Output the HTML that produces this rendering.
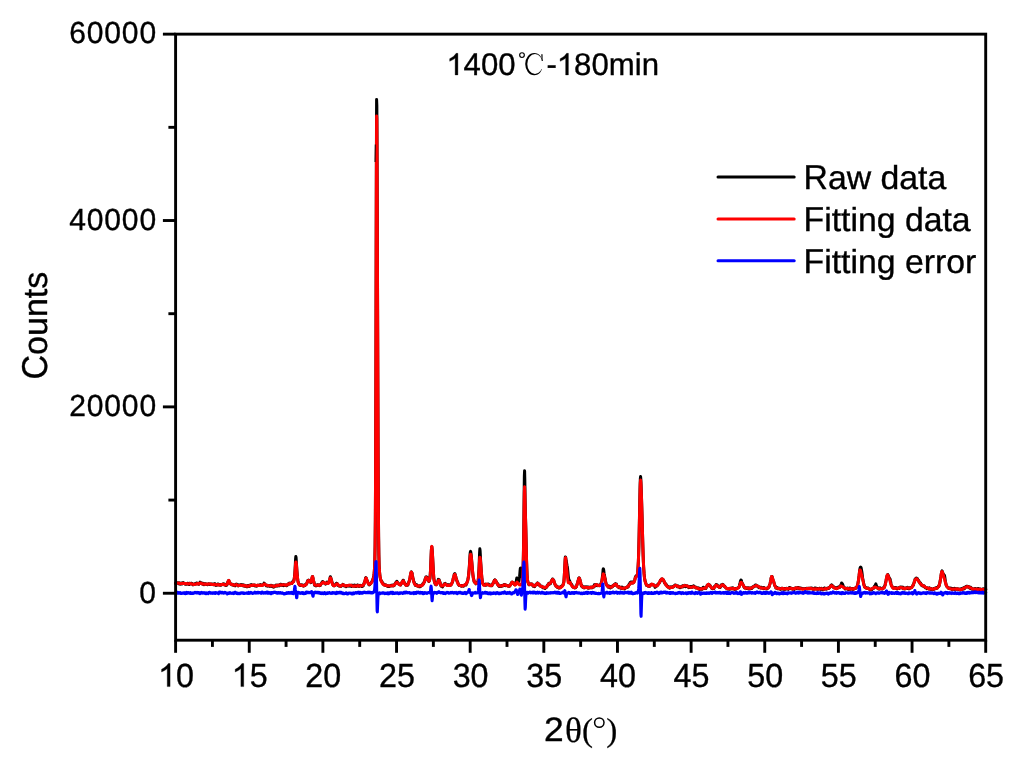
<!DOCTYPE html>
<html><head><meta charset="utf-8"><title>XRD 1400C-180min</title>
<style>html,body{margin:0;padding:0;background:#fff;}body{width:1024px;height:762px;overflow:hidden;}svg{display:block;will-change:transform;}text{font-family:"Liberation Sans",sans-serif;fill:#000;text-rendering:geometricPrecision;}.se{font-family:"Liberation Serif",serif;}</style></head><body>
<svg width="1024" height="762" viewBox="0 0 1024 762">
<rect x="0" y="0" width="1024" height="762" fill="#ffffff"/>
<g fill="none" stroke-width="3" stroke-linejoin="round" stroke-linecap="round">
<path stroke="#000000" d="M175.60 583.33L175.85 582.75L176.10 582.81L176.35 582.47L176.60 582.80L176.85 583.15L177.10 582.89L177.35 583.24L177.60 583.23L177.85 583.30L178.10 583.22L178.35 582.91L178.60 583.35L178.85 583.13L179.10 583.26L179.35 582.90L179.60 584.06L179.85 583.98L180.10 583.82L180.35 584.09L180.60 583.53L180.85 583.51L181.10 583.10L181.35 583.11L181.60 583.12L181.85 583.33L182.10 583.82L182.35 583.56L182.60 583.55L182.85 583.24L183.10 583.47L183.35 582.60L183.60 583.54L183.85 583.19L184.10 583.42L184.35 583.49L184.60 583.25L184.85 583.50L185.10 583.99L185.35 583.56L185.60 583.72L185.85 584.27L186.10 583.84L186.35 584.21L186.60 584.20L186.85 583.67L187.10 583.80L187.35 583.93L187.60 583.26L187.85 583.53L188.10 583.84L188.35 583.79L188.60 584.03L188.85 584.56L189.10 584.61L189.35 584.51L189.60 583.33L189.85 583.47L190.10 583.60L190.35 583.92L190.60 583.47L190.85 583.65L191.10 583.27L191.35 583.47L191.60 583.35L191.85 583.80L192.10 583.67L192.35 584.19L192.60 584.39L192.85 584.81L193.10 584.50L193.35 584.48L193.60 584.65L193.85 584.35L194.10 584.25L194.35 584.01L194.60 584.06L194.85 583.85L195.10 583.63L195.35 584.05L195.60 583.82L195.85 583.99L196.10 583.97L196.35 583.49L196.60 582.96L196.85 583.59L197.10 583.35L197.35 583.23L197.60 583.65L197.85 583.53L198.10 583.71L198.35 583.73L198.60 583.76L198.85 584.28L199.10 583.95L199.35 583.29L199.60 583.06L199.85 582.56L200.10 582.16L200.35 582.72L200.60 582.84L200.85 582.89L201.10 582.87L201.35 583.08L201.60 583.30L201.85 583.59L202.10 583.03L202.35 584.12L202.60 584.16L202.85 583.28L203.10 583.41L203.35 584.26L203.60 584.26L203.85 584.66L204.10 584.65L204.35 584.41L204.60 583.67L204.85 583.90L205.10 583.73L205.35 583.80L205.60 584.09L205.85 584.42L206.10 584.27L206.35 584.05L206.60 584.15L206.85 584.34L207.10 584.34L207.35 584.64L207.60 584.72L207.85 584.46L208.10 584.37L208.35 584.26L208.60 583.73L208.85 583.79L209.10 583.73L209.35 584.17L209.60 584.46L209.85 584.21L210.10 584.46L210.35 584.10L210.60 584.49L210.85 584.28L211.10 584.05L211.35 584.09L211.60 584.49L211.85 584.58L212.10 584.42L212.35 584.40L212.60 583.99L212.85 584.25L213.10 584.49L213.35 584.63L213.60 584.14L213.85 584.11L214.10 584.07L214.35 584.65L214.60 583.84L214.85 583.63L215.10 584.41L215.35 585.02L215.60 584.76L215.85 584.76L216.10 585.46L216.35 585.03L216.60 585.21L216.85 584.61L217.10 584.36L217.35 584.27L217.60 584.99L217.85 584.40L218.10 584.15L218.35 584.82L218.60 584.57L218.85 584.40L219.10 584.67L219.35 584.94L219.60 585.10L219.85 584.54L220.10 585.33L220.35 584.64L220.60 584.91L220.85 584.53L221.10 585.12L221.35 585.02L221.60 584.86L221.85 584.48L222.10 584.68L222.35 584.47L222.60 584.56L222.85 584.17L223.10 584.41L223.35 584.24L223.60 584.38L223.85 583.83L224.10 584.43L224.35 584.72L224.60 584.10L224.85 584.50L225.10 584.57L225.35 585.12L225.60 584.84L225.85 585.39L226.10 584.81L226.35 584.92L226.60 585.08L226.85 585.16L227.10 584.09L227.35 583.35L227.60 583.44L227.85 581.84L228.10 581.36L228.35 580.82L228.60 580.53L228.85 580.69L229.10 581.43L229.35 582.08L229.60 582.17L229.85 582.58L230.10 583.62L230.35 583.70L230.60 583.97L230.85 583.93L231.10 584.01L231.35 584.12L231.60 584.70L231.85 584.83L232.10 584.91L232.35 584.88L232.60 584.44L232.85 584.92L233.10 584.62L233.35 585.03L233.60 585.43L233.85 585.02L234.10 584.92L234.35 585.20L234.60 585.51L234.85 585.55L235.10 585.79L235.35 584.96L235.60 584.67L235.85 584.17L236.10 584.24L236.35 584.24L236.60 584.34L236.85 584.21L237.10 584.81L237.35 584.95L237.60 584.66L237.85 585.38L238.10 585.89L238.35 585.92L238.60 585.45L238.85 585.07L239.10 585.40L239.35 585.19L239.60 585.10L239.85 585.07L240.10 585.24L240.35 585.10L240.60 585.13L240.85 584.96L241.10 584.54L241.35 585.36L241.60 585.35L241.85 585.47L242.10 585.07L242.35 584.81L242.60 584.83L242.85 584.73L243.10 585.25L243.35 585.90L243.60 585.34L243.85 585.16L244.10 585.54L244.35 585.20L244.60 585.28L244.85 586.27L245.10 585.89L245.35 586.15L245.60 585.77L245.85 585.97L246.10 586.39L246.35 586.60L246.60 586.40L246.85 586.10L247.10 586.20L247.35 586.65L247.60 585.93L247.85 585.58L248.10 585.61L248.35 586.04L248.60 586.30L248.85 586.50L249.10 585.90L249.35 585.38L249.60 585.67L249.85 585.51L250.10 585.51L250.35 585.79L250.60 585.46L250.85 584.72L251.10 585.29L251.35 585.18L251.60 584.79L251.85 585.36L252.10 585.43L252.35 585.56L252.60 585.21L252.85 585.37L253.10 585.32L253.35 585.24L253.60 585.43L253.85 585.52L254.10 585.54L254.35 584.99L254.60 585.19L254.85 585.01L255.10 585.59L255.35 586.05L255.60 585.30L255.85 585.56L256.10 585.90L256.35 585.70L256.60 585.51L256.85 586.16L257.10 585.84L257.35 585.41L257.60 585.55L257.85 585.50L258.10 585.17L258.35 585.15L258.60 585.24L258.85 585.25L259.10 585.48L259.35 585.39L259.60 585.50L259.85 585.49L260.10 585.14L260.35 584.60L260.60 585.05L260.85 584.89L261.10 584.97L261.35 585.05L261.60 585.27L261.85 585.42L262.10 585.10L262.35 585.11L262.60 584.77L262.85 584.96L263.10 584.77L263.35 584.63L263.60 584.44L263.85 583.99L264.10 583.08L264.35 583.83L264.60 583.68L264.85 584.13L265.10 584.82L265.35 584.89L265.60 584.75L265.85 584.84L266.10 585.44L266.35 585.85L266.60 585.77L266.85 585.59L267.10 585.72L267.35 586.04L267.60 585.30L267.85 585.60L268.10 585.61L268.35 585.85L268.60 586.01L268.85 585.87L269.10 585.91L269.35 585.63L269.60 586.04L269.85 586.32L270.10 585.47L270.35 585.79L270.60 585.55L270.85 585.21L271.10 585.25L271.35 585.48L271.60 586.00L271.85 586.43L272.10 586.05L272.35 585.80L272.60 585.81L272.85 586.31L273.10 586.88L273.35 587.08L273.60 587.14L273.85 586.47L274.10 586.63L274.35 586.06L274.60 586.40L274.85 586.41L275.10 585.95L275.35 585.87L275.60 586.01L275.85 585.58L276.10 585.09L276.35 585.71L276.60 585.56L276.85 585.74L277.10 586.04L277.35 585.65L277.60 585.38L277.85 585.08L278.10 585.18L278.35 585.82L278.60 585.55L278.85 585.56L279.10 585.81L279.35 585.60L279.60 584.99L279.85 585.14L280.10 584.53L280.35 584.38L280.60 585.27L280.85 584.77L281.10 584.38L281.35 584.64L281.60 585.30L281.85 584.66L282.10 585.24L282.35 585.05L282.60 585.50L282.85 585.59L283.10 585.68L283.35 584.89L283.60 584.50L283.85 584.78L284.10 585.25L284.35 584.99L284.60 584.91L284.85 585.43L285.10 585.52L285.35 585.41L285.60 585.03L285.85 585.22L286.10 585.10L286.35 585.37L286.60 585.80L286.85 585.18L287.10 585.21L287.35 585.08L287.60 584.72L287.85 584.28L288.10 584.29L288.35 583.76L288.60 583.82L288.85 583.86L289.10 583.56L289.35 583.16L289.60 583.39L289.85 583.95L290.10 583.76L290.35 583.12L290.60 583.26L290.85 583.24L291.10 583.20L291.35 583.58L291.60 583.61L291.85 583.51L292.10 582.79L292.35 582.55L292.60 581.78L292.85 581.62L293.10 581.22L293.35 581.21L293.60 581.46L293.85 580.29L294.10 579.36L294.35 577.62L294.60 575.54L294.85 572.84L295.10 568.61L295.35 563.61L295.60 558.78L295.85 556.45L296.10 557.83L296.35 561.90L296.60 565.92L296.85 569.79L297.10 572.77L297.35 575.51L297.60 578.22L297.85 580.15L298.10 581.75L298.35 582.54L298.60 583.43L298.85 584.02L299.10 584.23L299.35 585.06L299.60 584.89L299.85 585.10L300.10 585.40L300.35 585.33L300.60 585.09L300.85 585.47L301.10 585.29L301.35 585.19L301.60 584.75L301.85 585.36L302.10 585.49L302.35 585.49L302.60 585.14L302.85 585.39L303.10 585.45L303.35 586.06L303.60 586.13L303.85 585.41L304.10 585.55L304.35 584.94L304.60 585.15L304.85 585.27L305.10 585.51L305.35 584.95L305.60 584.56L305.85 584.09L306.10 584.19L306.35 584.10L306.60 584.15L306.85 583.30L307.10 582.45L307.35 581.72L307.60 580.99L307.85 580.50L308.10 580.41L308.35 580.18L308.60 580.17L308.85 580.91L309.10 580.32L309.35 580.84L309.60 581.65L309.85 581.57L310.10 581.88L310.35 581.87L310.60 581.54L310.85 582.61L311.10 581.78L311.35 580.43L311.60 579.76L311.85 578.98L312.10 577.62L312.35 576.63L312.60 576.49L312.85 577.67L313.10 578.83L313.35 580.07L313.60 580.98L313.85 581.68L314.10 582.80L314.35 583.95L314.60 585.25L314.85 584.81L315.10 584.90L315.35 585.08L315.60 585.56L315.85 585.17L316.10 585.83L316.35 585.57L316.60 585.29L316.85 585.09L317.10 584.85L317.35 584.86L317.60 584.99L317.85 584.75L318.10 585.51L318.35 585.47L318.60 585.55L318.85 584.96L319.10 585.13L319.35 584.93L319.60 585.01L319.85 585.64L320.10 585.59L320.35 585.57L320.60 584.91L320.85 584.43L321.10 583.83L321.35 583.42L321.60 583.32L321.85 582.73L322.10 582.20L322.35 581.82L322.60 581.49L322.85 581.91L323.10 581.78L323.35 582.17L323.60 582.65L323.85 582.56L324.10 582.54L324.35 582.79L324.60 583.15L324.85 583.66L325.10 583.64L325.35 583.88L325.60 584.10L325.85 583.65L326.10 582.92L326.35 582.87L326.60 583.29L326.85 582.75L327.10 582.12L327.35 582.93L327.60 583.33L327.85 583.38L328.10 582.54L328.35 582.82L328.60 582.53L328.85 582.14L329.10 582.17L329.35 581.27L329.60 580.46L329.85 578.88L330.10 577.69L330.35 576.69L330.60 577.25L330.85 577.78L331.10 578.90L331.35 579.97L331.60 580.39L331.85 581.73L332.10 582.38L332.35 583.09L332.60 584.39L332.85 584.68L333.10 585.17L333.35 585.41L333.60 585.53L333.85 585.54L334.10 585.86L334.35 585.26L334.60 585.31L334.85 585.20L335.10 584.74L335.35 584.78L335.60 584.37L335.85 584.00L336.10 583.69L336.35 583.37L336.60 584.03L336.85 583.30L337.10 583.78L337.35 584.36L337.60 584.43L337.85 585.14L338.10 585.01L338.35 585.59L338.60 585.79L338.85 585.56L339.10 585.75L339.35 586.10L339.60 585.93L339.85 585.98L340.10 586.04L340.35 586.17L340.60 586.33L340.85 585.89L341.10 586.19L341.35 586.00L341.60 585.64L341.85 585.29L342.10 585.31L342.35 585.26L342.60 584.87L342.85 584.30L343.10 584.63L343.35 584.92L343.60 584.82L343.85 585.01L344.10 585.89L344.35 585.66L344.60 585.87L344.85 585.99L345.10 585.77L345.35 585.88L345.60 586.18L345.85 586.67L346.10 586.69L346.35 586.31L346.60 586.03L346.85 585.86L347.10 585.76L347.35 585.81L347.60 585.92L347.85 586.04L348.10 585.75L348.35 585.85L348.60 585.46L348.85 585.74L349.10 586.06L349.35 585.59L349.60 585.96L349.85 585.24L350.10 585.53L350.35 585.36L350.60 585.44L350.85 585.54L351.10 586.02L351.35 586.40L351.60 585.69L351.85 585.57L352.10 585.17L352.35 586.06L352.60 585.81L352.85 585.96L353.10 585.74L353.35 586.17L353.60 585.93L353.85 585.58L354.10 585.70L354.35 585.18L354.60 585.67L354.85 585.36L355.10 585.87L355.35 585.30L355.60 586.60L355.85 586.58L356.10 586.59L356.35 586.29L356.60 585.80L356.85 585.38L357.10 585.52L357.35 585.10L357.60 585.78L357.85 585.95L358.10 585.16L358.35 585.41L358.60 586.25L358.85 586.33L359.10 586.49L359.35 585.84L359.60 585.47L359.85 585.60L360.10 585.24L360.35 585.75L360.60 585.51L360.85 585.55L361.10 585.79L361.35 586.16L361.60 586.01L361.85 586.52L362.10 586.25L362.35 586.34L362.60 585.40L362.85 585.59L363.10 585.95L363.35 585.15L363.60 584.77L363.85 584.35L364.10 583.07L364.35 582.60L364.60 581.89L364.85 581.22L365.10 581.22L365.35 579.32L365.60 577.94L365.85 577.61L366.10 578.00L366.35 578.24L366.60 579.53L366.85 579.93L367.10 580.44L367.35 580.92L367.60 581.81L367.85 582.54L368.10 582.84L368.35 583.00L368.60 583.66L368.85 584.55L369.10 584.76L369.35 584.87L369.60 584.65L369.85 584.39L370.10 584.05L370.35 583.65L370.60 583.55L370.85 583.41L371.10 582.84L371.35 582.39L371.60 581.91L371.85 581.43L372.10 581.45L372.35 581.21L372.60 580.16L372.85 579.58L373.10 578.55L373.35 577.94L373.60 576.54L373.85 575.24L374.10 573.72L374.35 570.83L374.60 566.78L374.85 559.49L375.10 546.02L375.35 519.07L375.60 469.00L375.85 388.52L376.10 280.64L376.35 167.96L376.60 99.44L376.85 106.07L377.10 162.13L377.35 232.07L377.60 308.66L377.85 386.55L378.10 454.11L378.35 503.92L378.60 536.11L378.85 554.54L379.10 564.74L379.35 569.65L379.60 572.54L379.85 574.80L380.10 576.69L380.35 578.27L380.60 579.47L380.85 580.06L381.10 580.64L381.35 580.80L381.60 581.56L381.85 581.52L382.10 581.83L382.35 583.08L382.60 583.06L382.85 583.41L383.10 583.51L383.35 584.08L383.60 584.04L383.85 584.64L384.10 584.92L384.35 585.06L384.60 584.60L384.85 585.09L385.10 584.96L385.35 585.09L385.60 585.33L385.85 585.06L386.10 585.04L386.35 585.48L386.60 585.58L386.85 585.65L387.10 585.98L387.35 585.77L387.60 585.75L387.85 586.19L388.10 586.46L388.35 586.13L388.60 586.13L388.85 586.18L389.10 585.88L389.35 586.57L389.60 586.09L389.85 585.87L390.10 585.76L390.35 585.96L390.60 585.72L390.85 585.71L391.10 585.30L391.35 585.45L391.60 585.43L391.85 585.86L392.10 585.55L392.35 585.07L392.60 585.40L392.85 585.26L393.10 585.40L393.35 585.56L393.60 585.89L393.85 584.95L394.10 585.52L394.35 585.01L394.60 584.87L394.85 584.01L395.10 584.03L395.35 583.73L395.60 583.03L395.85 582.54L396.10 582.42L396.35 581.88L396.60 581.62L396.85 581.26L397.10 581.67L397.35 582.09L397.60 582.48L397.85 583.03L398.10 583.30L398.35 583.42L398.60 583.41L398.85 584.10L399.10 584.22L399.35 584.02L399.60 584.55L399.85 584.68L400.10 584.85L400.35 584.79L400.60 584.99L400.85 584.13L401.10 583.98L401.35 583.60L401.60 583.28L401.85 582.89L402.10 581.95L402.35 581.84L402.60 581.59L402.85 580.90L403.10 580.23L403.35 580.20L403.60 581.29L403.85 581.55L404.10 582.65L404.35 582.83L404.60 583.58L404.85 583.91L405.10 583.73L405.35 584.13L405.60 584.75L405.85 585.12L406.10 584.98L406.35 585.13L406.60 585.11L406.85 584.77L407.10 584.24L407.35 584.95L407.60 585.25L407.85 585.13L408.10 584.09L408.35 582.80L408.60 582.45L408.85 582.26L409.10 581.18L409.35 581.10L409.60 579.44L409.85 579.10L410.10 577.19L410.35 575.71L410.60 574.26L410.85 573.01L411.10 572.36L411.35 571.82L411.60 572.17L411.85 572.85L412.10 573.12L412.35 574.97L412.60 576.33L412.85 577.97L413.10 578.80L413.35 579.91L413.60 581.09L413.85 581.67L414.10 582.25L414.35 582.78L414.60 583.57L414.85 584.09L415.10 584.19L415.35 585.34L415.60 585.42L415.85 585.22L416.10 585.15L416.35 584.80L416.60 584.63L416.85 585.07L417.10 585.38L417.35 586.09L417.60 586.13L417.85 586.04L418.10 586.24L418.35 586.08L418.60 586.03L418.85 586.29L419.10 586.46L419.35 586.77L419.60 585.88L419.85 586.15L420.10 586.58L420.35 585.96L420.60 585.90L420.85 585.71L421.10 585.93L421.35 585.17L421.60 585.22L421.85 585.29L422.10 585.16L422.35 585.04L422.60 584.48L422.85 583.68L423.10 583.90L423.35 583.97L423.60 583.26L423.85 582.47L424.10 582.49L424.35 582.06L424.60 581.42L424.85 580.15L425.10 579.19L425.35 578.62L425.60 578.06L425.85 577.09L426.10 577.14L426.35 576.92L426.60 577.12L426.85 577.07L427.10 577.38L427.35 578.08L427.60 579.14L427.85 579.75L428.10 580.36L428.35 580.66L428.60 580.55L428.85 581.55L429.10 581.26L429.35 580.29L429.60 579.46L429.85 578.59L430.10 576.50L430.35 573.36L430.60 569.03L430.85 562.62L431.10 556.37L431.35 550.58L431.60 547.22L431.85 546.72L432.10 549.16L432.35 552.10L432.60 556.70L432.85 561.67L433.10 566.38L433.35 570.76L433.60 574.91L433.85 578.73L434.10 579.96L434.35 581.09L434.60 582.23L434.85 582.86L435.10 583.71L435.35 584.27L435.60 584.65L435.85 584.46L436.10 584.52L436.35 584.61L436.60 583.99L436.85 583.53L437.10 583.42L437.35 583.38L437.60 582.43L437.85 581.38L438.10 580.32L438.35 579.34L438.60 579.45L438.85 579.69L439.10 579.72L439.35 580.64L439.60 581.26L439.85 582.13L440.10 582.80L440.35 583.64L440.60 584.56L440.85 585.71L441.10 585.28L441.35 585.64L441.60 586.42L441.85 586.49L442.10 586.49L442.35 586.35L442.60 586.86L442.85 586.10L443.10 585.49L443.35 585.46L443.60 584.89L443.85 584.41L444.10 584.57L444.35 583.77L444.60 584.03L444.85 583.93L445.10 583.85L445.35 583.45L445.60 583.76L445.85 583.99L446.10 584.62L446.35 584.79L446.60 585.08L446.85 585.15L447.10 584.81L447.35 584.78L447.60 585.14L447.85 585.34L448.10 584.84L448.35 585.00L448.60 585.07L448.85 584.81L449.10 584.74L449.35 584.88L449.60 584.99L449.85 585.26L450.10 584.96L450.35 585.18L450.60 584.84L450.85 585.14L451.10 584.63L451.35 584.29L451.60 583.93L451.85 583.19L452.10 582.46L452.35 582.22L452.60 581.77L452.85 580.68L453.10 578.84L453.35 577.97L453.60 577.12L453.85 576.19L454.10 575.08L454.35 574.04L454.60 573.99L454.85 573.70L455.10 574.28L455.35 575.10L455.60 576.16L455.85 577.09L456.10 578.26L456.35 578.86L456.60 580.15L456.85 580.42L457.10 581.05L457.35 581.96L457.60 582.07L457.85 582.74L458.10 583.97L458.35 584.34L458.60 584.45L458.85 585.07L459.10 585.50L459.35 585.24L459.60 585.16L459.85 585.40L460.10 585.62L460.35 585.58L460.60 585.78L460.85 585.91L461.10 585.53L461.35 586.22L461.60 586.24L461.85 585.61L462.10 585.60L462.35 585.77L462.60 585.56L462.85 585.78L463.10 585.92L463.35 586.16L463.60 586.16L463.85 585.62L464.10 585.12L464.35 585.09L464.60 585.15L464.85 585.06L465.10 584.70L465.35 584.61L465.60 584.95L465.85 584.68L466.10 584.90L466.35 583.73L466.60 583.51L466.85 583.13L467.10 582.04L467.35 581.31L467.60 580.71L467.85 579.62L468.10 578.39L468.35 577.17L468.60 575.21L468.85 571.97L469.10 569.55L469.35 566.24L469.60 562.12L469.85 557.71L470.10 553.92L470.35 552.05L470.60 551.42L470.85 552.35L471.10 554.43L471.35 556.66L471.60 559.76L471.85 562.48L472.10 565.55L472.35 568.86L472.60 571.52L472.85 574.10L473.10 576.25L473.35 578.08L473.60 578.78L473.85 580.01L474.10 581.53L474.35 582.01L474.60 581.99L474.85 582.05L475.10 582.81L475.35 583.12L475.60 583.16L475.85 583.86L476.10 583.57L476.35 583.56L476.60 583.46L476.85 582.76L477.10 582.95L477.35 582.80L477.60 582.44L477.85 582.22L478.10 581.17L478.35 578.68L478.60 575.61L478.85 571.51L479.10 566.22L479.35 558.98L479.60 552.44L479.85 548.87L480.10 550.77L480.35 555.42L480.60 560.17L480.85 564.04L481.10 568.10L481.35 571.60L481.60 574.85L481.85 577.65L482.10 579.61L482.35 581.56L482.60 582.93L482.85 583.47L483.10 583.86L483.35 584.66L483.60 584.89L483.85 584.78L484.10 584.91L484.35 584.95L484.60 585.07L484.85 585.14L485.10 584.51L485.35 584.19L485.60 584.74L485.85 585.30L486.10 584.58L486.35 584.82L486.60 584.52L486.85 584.75L487.10 584.53L487.35 584.46L487.60 584.60L487.85 584.23L488.10 583.91L488.35 583.89L488.60 584.20L488.85 584.63L489.10 584.82L489.35 585.10L489.60 585.05L489.85 585.36L490.10 585.51L490.35 585.38L490.60 585.56L490.85 585.18L491.10 584.87L491.35 585.37L491.60 585.21L491.85 585.70L492.10 585.05L492.35 584.41L492.60 584.42L492.85 583.41L493.10 583.06L493.35 583.18L493.60 582.80L493.85 581.59L494.10 581.03L494.35 580.32L494.60 580.80L494.85 580.32L495.10 579.92L495.35 580.23L495.60 580.47L495.85 581.07L496.10 581.40L496.35 582.03L496.60 582.01L496.85 583.17L497.10 583.30L497.35 583.30L497.60 584.43L497.85 584.91L498.10 584.44L498.35 584.61L498.60 586.00L498.85 586.12L499.10 586.48L499.35 586.03L499.60 586.13L499.85 586.23L500.10 586.30L500.35 585.92L500.60 586.08L500.85 586.46L501.10 586.26L501.35 585.91L501.60 586.12L501.85 585.51L502.10 586.14L502.35 585.79L502.60 585.86L502.85 585.21L503.10 585.37L503.35 585.59L503.60 585.64L503.85 584.63L504.10 584.57L504.35 585.06L504.60 584.94L504.85 585.25L505.10 584.72L505.35 584.94L505.60 585.70L505.85 585.32L506.10 585.00L506.35 585.14L506.60 585.18L506.85 585.38L507.10 585.61L507.35 585.54L507.60 585.93L507.85 585.94L508.10 586.03L508.35 586.18L508.60 586.28L508.85 586.27L509.10 586.12L509.35 585.60L509.60 586.17L509.85 585.91L510.10 585.20L510.35 584.76L510.60 584.82L510.85 583.87L511.10 583.87L511.35 583.74L511.60 582.43L511.85 582.47L512.10 582.08L512.35 582.49L512.60 582.57L512.85 582.84L513.10 582.84L513.35 583.33L513.60 582.92L513.85 583.33L514.10 583.81L514.35 584.43L514.60 584.37L514.85 584.15L515.10 584.62L515.35 583.93L515.60 583.35L515.85 582.61L516.10 581.79L516.35 581.10L516.60 579.02L516.85 577.94L517.10 577.90L517.35 579.56L517.60 580.86L517.85 581.49L518.10 582.12L518.35 582.08L518.60 581.36L518.85 580.85L519.10 580.03L519.35 577.68L519.60 576.21L519.85 573.45L520.10 570.44L520.35 568.29L520.60 568.00L520.85 568.15L521.10 569.57L521.35 572.43L521.60 574.46L521.85 576.07L522.10 576.79L522.35 577.30L522.60 576.09L522.85 572.31L523.10 565.88L523.35 556.03L523.60 541.83L523.85 521.60L524.10 497.60L524.35 476.19L524.60 470.69L524.85 481.55L525.10 498.43L525.35 511.60L525.60 520.39L525.85 529.85L526.10 540.87L526.35 552.67L526.60 562.02L526.85 568.83L527.10 574.78L527.35 578.67L527.60 580.61L527.85 581.92L528.10 582.61L528.35 583.40L528.60 584.03L528.85 584.65L529.10 584.56L529.35 584.65L529.60 584.41L529.85 584.56L530.10 584.36L530.35 584.31L530.60 584.02L530.85 583.80L531.10 583.90L531.35 583.99L531.60 584.55L531.85 584.40L532.10 584.16L532.35 584.72L532.60 584.90L532.85 585.72L533.10 586.15L533.35 585.84L533.60 585.61L533.85 585.95L534.10 586.36L534.35 586.29L534.60 586.58L534.85 586.18L535.10 585.32L535.35 585.10L535.60 585.22L535.85 584.61L536.10 584.67L536.35 584.40L536.60 583.89L536.85 583.69L537.10 583.85L537.35 583.32L537.60 582.94L537.85 584.04L538.10 584.64L538.35 584.46L538.60 583.95L538.85 584.34L539.10 584.22L539.35 584.53L539.60 584.82L539.85 585.63L540.10 586.04L540.35 586.06L540.60 586.09L540.85 586.00L541.10 586.26L541.35 586.61L541.60 586.21L541.85 586.47L542.10 586.26L542.35 587.13L542.60 586.82L542.85 587.77L543.10 587.51L543.35 587.81L543.60 587.53L543.85 587.82L544.10 587.71L544.35 587.35L544.60 587.40L544.85 587.68L545.10 588.52L545.35 588.14L545.60 587.65L545.85 587.74L546.10 587.29L546.35 587.14L546.60 587.19L546.85 586.40L547.10 585.73L547.35 585.66L547.60 585.52L547.85 584.80L548.10 585.14L548.35 584.89L548.60 583.76L548.85 583.31L549.10 583.63L549.35 583.72L549.60 583.50L549.85 583.97L550.10 583.78L550.35 583.30L550.60 583.52L550.85 582.47L551.10 581.68L551.35 580.90L551.60 580.67L551.85 580.26L552.10 579.82L552.35 579.86L552.60 578.91L552.85 579.11L553.10 579.57L553.35 579.86L553.60 580.23L553.85 580.49L554.10 581.78L554.35 582.32L554.60 583.17L554.85 584.01L555.10 584.49L555.35 585.27L555.60 585.20L555.85 585.93L556.10 585.84L556.35 585.70L556.60 586.51L556.85 586.90L557.10 586.83L557.35 587.31L557.60 586.87L557.85 587.04L558.10 587.45L558.35 587.58L558.60 587.54L558.85 587.99L559.10 587.35L559.35 587.86L559.60 587.85L559.85 587.90L560.10 587.20L560.35 586.87L560.60 586.74L560.85 586.89L561.10 586.80L561.35 586.24L561.60 586.11L561.85 586.19L562.10 585.92L562.35 585.62L562.60 585.37L562.85 585.19L563.10 585.05L563.35 583.52L563.60 583.06L563.85 582.02L564.10 579.10L564.35 574.70L564.60 569.99L564.85 565.24L565.10 560.14L565.35 556.99L565.60 557.09L565.85 558.56L566.10 560.40L566.35 561.57L566.60 562.93L566.85 564.43L567.10 565.86L567.35 567.09L567.60 569.02L567.85 571.64L568.10 574.15L568.35 576.61L568.60 578.63L568.85 579.67L569.10 580.31L569.35 580.63L569.60 580.72L569.85 581.61L570.10 582.80L570.35 583.36L570.60 582.94L570.85 584.05L571.10 584.19L571.35 584.70L571.60 584.96L571.85 584.57L572.10 585.63L572.35 586.37L572.60 586.76L572.85 586.90L573.10 586.77L573.35 587.25L573.60 587.06L573.85 587.04L574.10 587.02L574.35 587.26L574.60 587.44L574.85 587.89L575.10 587.45L575.35 587.72L575.60 587.60L575.85 586.99L576.10 586.98L576.35 586.80L576.60 585.85L576.85 584.70L577.10 584.47L577.35 583.38L577.60 582.92L577.85 581.82L578.10 580.69L578.35 580.18L578.60 578.85L578.85 577.88L579.10 577.79L579.35 578.02L579.60 579.07L579.85 579.28L580.10 580.20L580.35 581.58L580.60 582.22L580.85 583.75L581.10 584.87L581.35 585.98L581.60 585.76L581.85 585.28L582.10 586.25L582.35 586.88L582.60 587.08L582.85 587.32L583.10 587.15L583.35 586.88L583.60 587.59L583.85 587.29L584.10 587.84L584.35 586.98L584.60 587.24L584.85 587.56L585.10 587.16L585.35 587.31L585.60 587.18L585.85 587.06L586.10 586.73L586.35 587.24L586.60 587.46L586.85 587.29L587.10 587.56L587.35 587.21L587.60 587.84L587.85 587.39L588.10 586.94L588.35 587.91L588.60 588.16L588.85 588.24L589.10 587.84L589.35 587.40L589.60 587.49L589.85 587.64L590.10 587.82L590.35 587.59L590.60 587.13L590.85 586.97L591.10 587.41L591.35 587.41L591.60 587.77L591.85 587.49L592.10 587.87L592.35 587.07L592.60 586.97L592.85 587.12L593.10 587.15L593.35 587.11L593.60 586.89L593.85 586.98L594.10 586.08L594.35 584.83L594.60 585.41L594.85 585.86L595.10 585.09L595.35 584.68L595.60 585.03L595.85 585.57L596.10 585.02L596.35 585.51L596.60 584.56L596.85 584.94L597.10 584.99L597.35 585.25L597.60 585.46L597.85 585.40L598.10 585.67L598.35 585.29L598.60 585.41L598.85 585.28L599.10 585.40L599.35 585.55L599.60 585.75L599.85 585.60L600.10 584.89L600.35 584.57L600.60 584.52L600.85 583.62L601.10 583.14L601.35 582.88L601.60 582.03L601.85 581.11L602.10 579.24L602.35 577.25L602.60 575.30L602.85 572.80L603.10 569.54L603.35 568.80L603.60 569.56L603.85 571.25L604.10 573.39L604.35 574.91L604.60 576.06L604.85 577.55L605.10 578.91L605.35 579.92L605.60 581.65L605.85 582.64L606.10 583.82L606.35 584.27L606.60 584.92L606.85 585.04L607.10 585.69L607.35 585.36L607.60 585.95L607.85 586.57L608.10 587.02L608.35 586.84L608.60 587.24L608.85 586.65L609.10 586.17L609.35 586.33L609.60 586.99L609.85 587.07L610.10 587.37L610.35 587.85L610.60 587.35L610.85 586.68L611.10 586.88L611.35 586.71L611.60 586.26L611.85 587.01L612.10 586.94L612.35 586.58L612.60 586.21L612.85 586.32L613.10 585.82L613.35 585.51L613.60 585.12L613.85 585.50L614.10 585.47L614.35 585.07L614.60 584.73L614.85 584.25L615.10 584.52L615.35 583.68L615.60 584.12L615.85 583.88L616.10 583.97L616.35 584.01L616.60 584.83L616.85 585.72L617.10 586.05L617.35 586.14L617.60 586.48L617.85 586.54L618.10 586.30L618.35 587.01L618.60 587.40L618.85 586.89L619.10 587.30L619.35 587.77L619.60 586.83L619.85 587.50L620.10 587.79L620.35 587.42L620.60 587.83L620.85 588.18L621.10 587.88L621.35 588.46L621.60 587.49L621.85 587.74L622.10 587.06L622.35 587.78L622.60 588.02L622.85 588.40L623.10 588.55L623.35 588.69L623.60 588.43L623.85 588.00L624.10 588.42L624.35 588.44L624.60 588.89L624.85 587.93L625.10 587.91L625.35 587.79L625.60 587.77L625.85 587.42L626.10 587.43L626.35 587.31L626.60 587.21L626.85 587.20L627.10 587.12L627.35 587.34L627.60 586.48L627.85 587.10L628.10 586.96L628.35 586.22L628.60 585.74L628.85 585.10L629.10 584.34L629.35 583.91L629.60 583.64L629.85 583.65L630.10 582.65L630.35 582.96L630.60 582.65L630.85 582.06L631.10 582.07L631.35 582.07L631.60 582.30L631.85 582.13L632.10 583.10L632.35 582.42L632.60 582.35L632.85 582.58L633.10 582.53L633.35 582.89L633.60 582.30L633.85 581.35L634.10 581.68L634.35 580.66L634.60 580.29L634.85 579.34L635.10 578.26L635.35 577.14L635.60 576.63L635.85 576.51L636.10 575.77L636.35 576.03L636.60 575.97L636.85 575.70L637.10 575.07L637.35 574.58L637.60 573.37L637.85 570.22L638.10 566.09L638.35 561.65L638.60 555.00L638.85 546.59L639.10 535.66L639.35 523.37L639.60 510.10L639.85 497.19L640.10 485.65L640.35 478.36L640.60 476.58L640.85 479.35L641.10 485.53L641.35 492.54L641.60 500.32L641.85 509.17L642.10 517.82L642.35 527.18L642.60 536.85L642.85 546.02L643.10 554.37L643.35 561.19L643.60 566.24L643.85 570.05L644.10 573.91L644.35 576.61L644.60 578.49L644.85 579.81L645.10 581.09L645.35 581.82L645.60 582.53L645.85 583.46L646.10 583.94L646.35 585.20L646.60 585.16L646.85 585.37L647.10 585.29L647.35 585.56L647.60 585.45L647.85 585.42L648.10 586.03L648.35 586.31L648.60 586.14L648.85 586.11L649.10 585.98L649.35 585.94L649.60 586.37L649.85 585.88L650.10 585.28L650.35 585.01L650.60 584.84L650.85 584.93L651.10 584.53L651.35 584.23L651.60 584.67L651.85 584.53L652.10 584.50L652.35 584.53L652.60 584.69L652.85 584.75L653.10 585.08L653.35 585.10L653.60 585.16L653.85 585.19L654.10 585.04L654.35 585.62L654.60 585.85L654.85 586.30L655.10 587.34L655.35 586.87L655.60 586.15L655.85 586.14L656.10 586.11L656.35 586.38L656.60 585.94L656.85 586.01L657.10 585.74L657.35 585.22L657.60 584.93L657.85 584.18L658.10 584.35L658.35 583.89L658.60 583.57L658.85 583.40L659.10 582.95L659.35 582.70L659.60 582.52L659.85 581.83L660.10 581.36L660.35 580.21L660.60 580.30L660.85 580.08L661.10 579.59L661.35 579.45L661.60 578.96L661.85 579.11L662.10 579.33L662.35 579.83L662.60 580.01L662.85 579.31L663.10 579.49L663.35 579.82L663.60 580.49L663.85 580.91L664.10 581.46L664.35 582.52L664.60 582.94L664.85 583.34L665.10 583.18L665.35 584.10L665.60 583.89L665.85 584.81L666.10 584.40L666.35 585.06L666.60 585.45L666.85 585.53L667.10 585.97L667.35 585.94L667.60 586.70L667.85 586.58L668.10 586.34L668.35 586.70L668.60 587.42L668.85 587.68L669.10 587.17L669.35 587.46L669.60 587.47L669.85 588.13L670.10 587.32L670.35 587.17L670.60 587.12L670.85 586.86L671.10 587.43L671.35 587.02L671.60 587.53L671.85 587.06L672.10 587.30L672.35 586.90L672.60 587.27L672.85 587.00L673.10 586.53L673.35 586.85L673.60 586.40L673.85 586.52L674.10 585.76L674.35 585.87L674.60 585.61L674.85 585.60L675.10 584.93L675.35 585.23L675.60 585.09L675.85 585.15L676.10 585.28L676.35 585.54L676.60 585.77L676.85 585.77L677.10 586.40L677.35 586.28L677.60 586.82L677.85 586.75L678.10 585.98L678.35 586.74L678.60 586.95L678.85 586.97L679.10 586.62L679.35 586.89L679.60 587.39L679.85 587.73L680.10 587.37L680.35 587.03L680.60 586.76L680.85 587.08L681.10 586.80L681.35 587.15L681.60 586.62L681.85 586.60L682.10 586.82L682.35 586.52L682.60 585.76L682.85 586.12L683.10 586.33L683.35 586.52L683.60 586.68L683.85 586.36L684.10 585.93L684.35 585.68L684.60 585.67L684.85 585.22L685.10 585.57L685.35 586.08L685.60 586.64L685.85 586.07L686.10 586.12L686.35 585.93L686.60 585.89L686.85 585.74L687.10 586.30L687.35 586.53L687.60 586.35L687.85 586.50L688.10 586.35L688.35 586.82L688.60 587.64L688.85 586.71L689.10 587.42L689.35 587.39L689.60 587.09L689.85 587.41L690.10 586.45L690.35 586.83L690.60 586.79L690.85 587.10L691.10 586.65L691.35 586.75L691.60 587.15L691.85 586.69L692.10 587.17L692.35 587.20L692.60 586.81L692.85 586.56L693.10 586.89L693.35 586.04L693.60 585.88L693.85 586.59L694.10 586.40L694.35 586.81L694.60 586.93L694.85 586.80L695.10 586.91L695.35 587.24L695.60 587.26L695.85 587.91L696.10 587.39L696.35 587.83L696.60 587.43L696.85 587.83L697.10 588.03L697.35 587.74L697.60 588.24L697.85 588.56L698.10 588.81L698.35 588.57L698.60 587.98L698.85 588.33L699.10 588.76L699.35 589.19L699.60 589.34L699.85 589.11L700.10 588.89L700.35 589.13L700.60 588.69L700.85 588.97L701.10 589.14L701.35 588.72L701.60 588.48L701.85 588.87L702.10 588.63L702.35 589.14L702.60 588.39L702.85 587.74L703.10 587.43L703.35 587.75L703.60 587.45L703.85 587.88L704.10 587.57L704.35 587.98L704.60 587.88L704.85 587.98L705.10 588.50L705.35 588.30L705.60 587.77L705.85 588.56L706.10 587.83L706.35 587.13L706.60 586.86L706.85 586.46L707.10 585.35L707.35 584.98L707.60 585.53L707.85 585.12L708.10 584.68L708.35 584.30L708.60 584.48L708.85 584.74L709.10 584.53L709.35 585.78L709.60 585.52L709.85 585.24L710.10 585.57L710.35 586.20L710.60 586.51L710.85 586.71L711.10 587.15L711.35 587.60L711.60 587.72L711.85 588.30L712.10 588.16L712.35 588.31L712.60 588.76L712.85 588.28L713.10 588.14L713.35 588.43L713.60 588.41L713.85 588.63L714.10 587.70L714.35 587.31L714.60 586.32L714.85 586.57L715.10 586.10L715.35 586.08L715.60 585.62L715.85 585.15L716.10 584.46L716.35 584.47L716.60 584.73L716.85 584.78L717.10 584.90L717.35 585.60L717.60 586.01L717.85 586.45L718.10 585.92L718.35 586.37L718.60 586.40L718.85 586.51L719.10 587.11L719.35 587.02L719.60 586.89L719.85 587.11L720.10 587.44L720.35 587.18L720.60 586.65L720.85 586.07L721.10 585.15L721.35 585.70L721.60 585.06L721.85 585.34L722.10 584.68L722.35 584.51L722.60 584.73L722.85 584.38L723.10 584.86L723.35 585.05L723.60 585.91L723.85 586.18L724.10 586.25L724.35 586.22L724.60 586.05L724.85 586.54L725.10 587.05L725.35 587.36L725.60 587.54L725.85 587.71L726.10 588.10L726.35 588.39L726.60 588.48L726.85 588.74L727.10 588.69L727.35 589.04L727.60 588.75L727.85 588.59L728.10 588.45L728.35 588.84L728.60 589.10L728.85 589.21L729.10 589.05L729.35 588.78L729.60 588.74L729.85 589.17L730.10 588.73L730.35 589.08L730.60 588.77L730.85 588.68L731.10 588.49L731.35 588.10L731.60 588.63L731.85 588.71L732.10 588.80L732.35 588.75L732.60 588.51L732.85 587.81L733.10 588.59L733.35 588.37L733.60 588.57L733.85 588.44L734.10 588.83L734.35 588.73L734.60 589.36L734.85 588.49L735.10 588.61L735.35 589.12L735.60 588.69L735.85 588.88L736.10 589.19L736.35 588.55L736.60 588.85L736.85 588.44L737.10 588.59L737.35 588.11L737.60 588.14L737.85 587.93L738.10 587.73L738.35 587.75L738.60 587.64L738.85 587.12L739.10 586.60L739.35 586.27L739.60 584.85L739.85 583.69L740.10 583.18L740.35 581.56L740.60 580.82L740.85 580.16L741.10 580.47L741.35 580.35L741.60 581.62L741.85 582.41L742.10 583.37L742.35 583.33L742.60 583.55L742.85 584.57L743.10 585.07L743.35 585.33L743.60 585.94L743.85 586.51L744.10 587.37L744.35 587.33L744.60 587.84L744.85 587.67L745.10 587.25L745.35 587.68L745.60 587.64L745.85 587.68L746.10 588.08L746.35 587.95L746.60 588.35L746.85 588.19L747.10 588.02L747.35 587.82L747.60 588.13L747.85 588.65L748.10 588.38L748.35 587.89L748.60 588.08L748.85 588.16L749.10 588.91L749.35 588.79L749.60 588.34L749.85 588.62L750.10 588.17L750.35 588.42L750.60 588.62L750.85 588.37L751.10 588.31L751.35 587.71L751.60 588.01L751.85 588.46L752.10 588.13L752.35 587.67L752.60 586.98L752.85 587.22L753.10 586.70L753.35 586.41L753.60 586.25L753.85 586.46L754.10 586.70L754.35 586.64L754.60 586.07L754.85 585.93L755.10 585.64L755.35 585.15L755.60 585.37L755.85 585.45L756.10 585.04L756.35 585.71L756.60 585.73L756.85 586.00L757.10 585.96L757.35 586.13L757.60 586.42L757.85 586.01L758.10 586.51L758.35 586.75L758.60 587.30L758.85 587.63L759.10 587.37L759.35 587.12L759.60 587.38L759.85 587.32L760.10 587.30L760.35 587.83L760.60 587.96L760.85 587.97L761.10 587.27L761.35 587.62L761.60 587.71L761.85 587.91L762.10 587.69L762.35 587.84L762.60 587.70L762.85 588.24L763.10 588.36L763.35 588.80L763.60 588.42L763.85 587.56L764.10 587.83L764.35 588.05L764.60 588.00L764.85 588.19L765.10 588.66L765.35 588.79L765.60 588.80L765.85 588.51L766.10 588.69L766.35 588.53L766.60 588.51L766.85 588.89L767.10 588.75L767.35 588.64L767.60 587.96L767.85 587.60L768.10 587.41L768.35 587.48L768.60 587.34L768.85 587.37L769.10 586.86L769.35 585.45L769.60 584.65L769.85 584.09L770.10 583.37L770.35 582.34L770.60 580.87L770.85 579.73L771.10 578.24L771.35 577.39L771.60 576.58L771.85 576.70L772.10 576.63L772.35 577.98L772.60 578.30L772.85 579.44L773.10 580.37L773.35 581.01L773.60 581.43L773.85 582.23L774.10 583.07L774.35 584.10L774.60 585.30L774.85 585.57L775.10 586.16L775.35 586.19L775.60 586.78L775.85 588.09L776.10 587.74L776.35 588.04L776.60 587.78L776.85 587.31L777.10 587.53L777.35 588.30L777.60 588.28L777.85 588.77L778.10 588.45L778.35 588.25L778.60 588.69L778.85 588.41L779.10 588.23L779.35 588.33L779.60 588.72L779.85 588.85L780.10 589.22L780.35 589.41L780.60 588.90L780.85 588.84L781.10 588.49L781.35 588.33L781.60 588.48L781.85 588.83L782.10 588.32L782.35 588.23L782.60 588.56L782.85 588.98L783.10 589.09L783.35 588.54L783.60 588.95L783.85 588.72L784.10 588.53L784.35 588.99L784.60 589.37L784.85 588.94L785.10 588.51L785.35 588.87L785.60 589.13L785.85 588.57L786.10 588.54L786.35 588.63L786.60 588.29L786.85 588.53L787.10 588.51L787.35 588.62L787.60 588.90L787.85 588.68L788.10 588.91L788.35 589.32L788.60 588.96L788.85 588.39L789.10 587.99L789.35 587.49L789.60 587.51L789.85 587.47L790.10 587.76L790.35 588.11L790.60 588.17L790.85 588.57L791.10 588.32L791.35 588.56L791.60 588.33L791.85 588.74L792.10 588.89L792.35 588.73L792.60 588.94L792.85 589.22L793.10 589.01L793.35 588.65L793.60 588.60L793.85 588.95L794.10 589.19L794.35 589.37L794.60 588.60L794.85 588.43L795.10 588.09L795.35 588.05L795.60 588.02L795.85 587.80L796.10 587.97L796.35 588.61L796.60 588.18L796.85 588.07L797.10 587.79L797.35 588.26L797.60 588.26L797.85 587.45L798.10 588.12L798.35 587.93L798.60 587.59L798.85 587.87L799.10 588.10L799.35 588.90L799.60 588.33L799.85 588.65L800.10 587.97L800.35 588.38L800.60 588.74L800.85 588.61L801.10 588.70L801.35 588.79L801.60 588.33L801.85 588.28L802.10 588.54L802.35 588.52L802.60 588.78L802.85 588.68L803.10 588.82L803.35 588.87L803.60 588.87L803.85 588.74L804.10 588.75L804.35 589.02L804.60 588.85L804.85 588.87L805.10 589.14L805.35 589.10L805.60 588.78L805.85 588.55L806.10 588.76L806.35 588.68L806.60 588.79L806.85 588.20L807.10 588.44L807.35 589.04L807.60 588.97L807.85 588.53L808.10 588.32L808.35 588.25L808.60 588.63L808.85 588.47L809.10 588.57L809.35 588.58L809.60 588.52L809.85 588.61L810.10 588.18L810.35 588.54L810.60 588.42L810.85 588.72L811.10 588.09L811.35 587.91L811.60 587.99L811.85 588.61L812.10 588.76L812.35 588.69L812.60 588.65L812.85 589.19L813.10 588.94L813.35 589.15L813.60 588.85L813.85 588.79L814.10 589.20L814.35 588.31L814.60 588.63L814.85 588.01L815.10 588.56L815.35 588.90L815.60 588.26L815.85 588.66L816.10 589.00L816.35 588.42L816.60 588.79L816.85 588.67L817.10 589.28L817.35 588.66L817.60 588.51L817.85 588.61L818.10 588.46L818.35 588.92L818.60 588.89L818.85 589.17L819.10 588.83L819.35 588.36L819.60 588.38L819.85 588.34L820.10 588.54L820.35 589.03L820.60 589.36L820.85 588.82L821.10 588.67L821.35 588.33L821.60 588.64L821.85 588.99L822.10 588.81L822.35 588.97L822.60 589.61L822.85 589.42L823.10 589.62L823.35 589.75L823.60 589.60L823.85 589.13L824.10 588.24L824.35 588.09L824.60 588.45L824.85 588.15L825.10 588.49L825.35 588.45L825.60 588.63L825.85 588.67L826.10 589.13L826.35 588.41L826.60 588.76L826.85 588.58L827.10 588.78L827.35 588.51L827.60 588.67L827.85 588.57L828.10 588.09L828.35 587.81L828.60 588.45L828.85 587.98L829.10 588.08L829.35 587.74L829.60 587.20L829.85 587.33L830.10 586.86L830.35 586.73L830.60 586.18L830.85 585.54L831.10 585.26L831.35 585.18L831.60 584.89L831.85 585.83L832.10 585.37L832.35 585.79L832.60 585.86L832.85 586.52L833.10 586.71L833.35 587.22L833.60 587.20L833.85 586.80L834.10 587.44L834.35 587.84L834.60 587.84L834.85 587.64L835.10 588.01L835.35 588.26L835.60 588.26L835.85 587.87L836.10 587.79L836.35 588.56L836.60 588.72L836.85 588.61L837.10 588.15L837.35 587.82L837.60 588.01L837.85 587.28L838.10 587.68L838.35 587.16L838.60 586.98L838.85 586.67L839.10 586.72L839.35 586.67L839.60 587.12L839.85 587.42L840.10 586.87L840.35 585.99L840.60 585.25L840.85 584.89L841.10 584.36L841.35 583.80L841.60 582.99L841.85 583.43L842.10 583.44L842.35 583.73L842.60 584.55L842.85 584.71L843.10 585.93L843.35 586.76L843.60 587.17L843.85 587.28L844.10 587.66L844.35 587.77L844.60 587.79L844.85 588.22L845.10 588.96L845.35 588.74L845.60 588.93L845.85 588.22L846.10 588.52L846.35 588.74L846.60 588.65L846.85 588.60L847.10 588.98L847.35 588.46L847.60 588.14L847.85 588.27L848.10 588.66L848.35 588.88L848.60 589.69L848.85 589.10L849.10 588.78L849.35 589.02L849.60 588.91L849.85 587.94L850.10 588.73L850.35 589.15L850.60 588.75L850.85 588.69L851.10 589.06L851.35 588.79L851.60 588.79L851.85 588.47L852.10 588.62L852.35 588.45L852.60 588.45L852.85 589.35L853.10 588.75L853.35 589.39L853.60 588.83L853.85 588.63L854.10 588.93L854.35 588.89L854.60 588.27L854.85 588.63L855.10 588.46L855.35 588.30L855.60 588.33L855.85 588.28L856.10 587.58L856.35 587.28L856.60 587.22L856.85 586.93L857.10 586.28L857.35 585.52L857.60 584.85L857.85 584.04L858.10 582.41L858.35 581.16L858.60 580.04L858.85 577.35L859.10 575.53L859.35 573.17L859.60 570.84L859.85 569.30L860.10 567.96L860.35 567.28L860.60 567.06L860.85 567.33L861.10 567.68L861.35 568.94L861.60 570.41L861.85 571.76L862.10 573.62L862.35 575.77L862.60 578.00L862.85 579.25L863.10 580.38L863.35 581.32L863.60 583.43L863.85 584.23L864.10 585.40L864.35 585.82L864.60 586.90L864.85 587.15L865.10 586.92L865.35 587.04L865.60 587.97L865.85 587.93L866.10 587.52L866.35 588.05L866.60 587.95L866.85 588.06L867.10 588.56L867.35 588.55L867.60 588.12L867.85 587.97L868.10 588.47L868.35 588.13L868.60 588.74L868.85 588.81L869.10 588.88L869.35 589.32L869.60 589.05L869.85 589.42L870.10 590.12L870.35 589.91L870.60 589.66L870.85 589.80L871.10 589.78L871.35 589.58L871.60 589.92L871.85 588.96L872.10 588.64L872.35 588.56L872.60 588.46L872.85 588.31L873.10 588.29L873.35 588.18L873.60 588.28L873.85 587.78L874.10 587.09L874.35 586.89L874.60 586.01L874.85 586.25L875.10 585.62L875.35 585.20L875.60 584.43L875.85 583.89L876.10 584.86L876.35 585.43L876.60 586.35L876.85 587.25L877.10 587.42L877.35 588.03L877.60 587.55L877.85 587.67L878.10 587.75L878.35 588.12L878.60 589.09L878.85 588.57L879.10 588.52L879.35 589.21L879.60 588.83L879.85 588.41L880.10 587.92L880.35 588.62L880.60 588.50L880.85 588.49L881.10 588.75L881.35 588.84L881.60 588.65L881.85 588.50L882.10 588.32L882.35 588.57L882.60 588.88L882.85 588.33L883.10 587.83L883.35 588.12L883.60 587.84L883.85 587.62L884.10 587.93L884.35 587.05L884.60 585.99L884.85 585.54L885.10 585.06L885.35 583.40L885.60 582.72L885.85 581.47L886.10 580.28L886.35 578.89L886.60 577.94L886.85 576.86L887.10 576.04L887.35 574.93L887.60 574.74L887.85 574.61L888.10 575.69L888.35 576.14L888.60 576.09L888.85 576.88L889.10 577.60L889.35 577.94L889.60 578.22L889.85 578.71L890.10 579.24L890.35 580.40L890.60 581.35L890.85 582.61L891.10 584.00L891.35 585.14L891.60 586.08L891.85 586.05L892.10 586.29L892.35 586.94L892.60 587.56L892.85 587.65L893.10 587.86L893.35 587.80L893.60 588.19L893.85 587.97L894.10 588.05L894.35 587.77L894.60 587.96L894.85 587.87L895.10 588.05L895.35 587.61L895.60 587.92L895.85 587.66L896.10 587.61L896.35 587.80L896.60 587.96L896.85 588.41L897.10 588.92L897.35 588.80L897.60 588.35L897.85 587.96L898.10 588.03L898.35 588.26L898.60 587.87L898.85 587.86L899.10 588.42L899.35 588.48L899.60 588.06L899.85 587.40L900.10 587.09L900.35 587.31L900.60 587.05L900.85 587.39L901.10 587.63L901.35 587.52L901.60 587.45L901.85 587.19L902.10 587.62L902.35 587.75L902.60 587.75L902.85 587.22L903.10 588.19L903.35 588.74L903.60 588.43L903.85 588.06L904.10 588.52L904.35 588.36L904.60 588.20L904.85 588.91L905.10 588.46L905.35 588.53L905.60 588.32L905.85 588.11L906.10 588.15L906.35 588.52L906.60 587.74L906.85 587.68L907.10 587.98L907.35 587.56L907.60 587.41L907.85 587.70L908.10 588.56L908.35 588.48L908.60 588.66L908.85 588.46L909.10 588.31L909.35 588.75L909.60 588.35L909.85 587.69L910.10 588.22L910.35 587.59L910.60 587.84L910.85 587.62L911.10 587.72L911.35 587.23L911.60 587.53L911.85 587.08L912.10 586.81L912.35 586.40L912.60 586.22L912.85 585.31L913.10 585.45L913.35 585.17L913.60 583.90L913.85 583.21L914.10 582.14L914.35 581.95L914.60 581.13L914.85 580.19L915.10 579.25L915.35 579.04L915.60 578.96L915.85 578.31L916.10 578.17L916.35 578.44L916.60 578.13L916.85 578.64L917.10 578.84L917.35 578.67L917.60 579.30L917.85 579.72L918.10 580.02L918.35 580.13L918.60 580.49L918.85 581.38L919.10 582.07L919.35 581.96L919.60 582.48L919.85 583.02L920.10 583.03L920.35 583.18L920.60 583.10L920.85 584.04L921.10 584.56L921.35 585.12L921.60 584.81L921.85 585.17L922.10 584.94L922.35 585.89L922.60 585.66L922.85 585.76L923.10 585.93L923.35 585.71L923.60 585.88L923.85 586.33L924.10 585.90L924.35 586.04L924.60 586.72L924.85 586.99L925.10 587.48L925.35 587.66L925.60 587.70L925.85 587.49L926.10 587.54L926.35 587.84L926.60 588.13L926.85 588.68L927.10 587.89L927.35 587.93L927.60 588.36L927.85 588.10L928.10 588.22L928.35 588.65L928.60 589.00L928.85 588.28L929.10 588.14L929.35 587.81L929.60 587.95L929.85 588.49L930.10 589.04L930.35 589.37L930.60 589.10L930.85 588.79L931.10 588.62L931.35 588.69L931.60 589.12L931.85 589.17L932.10 589.50L932.35 589.15L932.60 589.50L932.85 589.51L933.10 589.62L933.35 589.62L933.60 589.39L933.85 588.56L934.10 588.76L934.35 588.91L934.60 588.97L934.85 588.52L935.10 588.48L935.35 588.46L935.60 587.88L935.85 587.74L936.10 587.84L936.35 587.65L936.60 588.38L936.85 588.28L937.10 588.32L937.35 588.05L937.60 587.24L937.85 587.20L938.10 586.70L938.35 586.90L938.60 585.95L938.85 586.41L939.10 585.86L939.35 584.63L939.60 583.96L939.85 582.66L940.10 581.39L940.35 579.96L940.60 578.41L940.85 576.94L941.10 575.14L941.35 573.42L941.60 572.40L941.85 571.52L942.10 570.82L942.35 571.78L942.60 572.69L942.85 573.00L943.10 573.52L943.35 574.01L943.60 574.70L943.85 574.74L944.10 574.91L944.35 575.48L944.60 575.94L944.85 577.47L945.10 579.55L945.35 581.33L945.60 582.29L945.85 583.44L946.10 584.57L946.35 585.67L946.60 586.12L946.85 586.37L947.10 586.86L947.35 587.16L947.60 587.10L947.85 587.28L948.10 587.50L948.35 587.78L948.60 588.34L948.85 588.09L949.10 587.93L949.35 588.03L949.60 587.99L949.85 588.15L950.10 588.24L950.35 588.60L950.60 588.36L950.85 588.65L951.10 588.22L951.35 588.30L951.60 588.72L951.85 588.93L952.10 589.60L952.35 589.49L952.60 589.31L952.85 588.54L953.10 589.18L953.35 588.80L953.60 588.85L953.85 589.06L954.10 588.68L954.35 589.42L954.60 589.03L954.85 588.33L955.10 588.57L955.35 588.75L955.60 588.80L955.85 588.79L956.10 589.21L956.35 589.17L956.60 588.86L956.85 589.17L957.10 588.87L957.35 588.80L957.60 588.81L957.85 589.21L958.10 589.22L958.35 589.34L958.60 589.11L958.85 589.07L959.10 589.76L959.35 589.85L959.60 589.18L959.85 589.19L960.10 589.73L960.35 589.99L960.60 589.70L960.85 589.10L961.10 588.79L961.35 589.28L961.60 589.36L961.85 588.92L962.10 589.33L962.35 588.70L962.60 588.53L962.85 588.48L963.10 588.07L963.35 588.05L963.60 588.39L963.85 588.87L964.10 588.33L964.35 587.88L964.60 587.40L964.85 588.40L965.10 587.39L965.35 587.07L965.60 586.75L965.85 586.58L966.10 586.43L966.35 586.38L966.60 586.30L966.85 586.62L967.10 586.68L967.35 586.48L967.60 586.29L967.85 586.75L968.10 587.07L968.35 586.63L968.60 586.59L968.85 586.67L969.10 587.13L969.35 587.04L969.60 587.51L969.85 588.26L970.10 587.53L970.35 588.16L970.60 587.31L970.85 587.70L971.10 588.09L971.35 589.01L971.60 588.97L971.85 588.31L972.10 588.20L972.35 588.45L972.60 589.31L972.85 589.25L973.10 589.33L973.35 589.15L973.60 589.19L973.85 589.16L974.10 589.55L974.35 589.61L974.60 588.89L974.85 589.41L975.10 589.11L975.35 588.51L975.60 588.78L975.85 589.51L976.10 589.09L976.35 589.56L976.60 589.32L976.85 589.20L977.10 588.72L977.35 588.69L977.60 589.15L977.85 588.67L978.10 588.94L978.35 589.28L978.60 589.51L978.85 588.63L979.10 589.08L979.35 589.09L979.60 589.19L979.85 589.41L980.10 589.89L980.35 589.70L980.60 589.43L980.85 589.11L981.10 589.31L981.35 589.89L981.60 590.03L981.85 589.90L982.10 589.67L982.35 589.30L982.60 589.45L982.85 589.31L983.10 589.25L983.35 588.84L983.60 589.08L983.85 589.13L984.10 588.98L984.35 589.04L984.60 589.68L984.85 589.68L985.10 589.67L985.35 589.94L985.70 589.23"/>
<path stroke="#ff0000" d="M175.60 583.16L175.85 583.11L176.10 583.15L176.35 583.20L176.60 583.32L176.85 583.35L177.10 583.21L177.35 583.17L177.60 583.05L177.85 583.05L178.10 583.03L178.35 583.04L178.60 583.28L178.85 583.18L179.10 583.14L179.35 583.11L179.60 583.34L179.85 583.56L180.10 583.66L180.35 583.69L180.60 583.63L180.85 583.62L181.10 583.54L181.35 583.61L181.60 583.56L181.85 583.51L182.10 583.59L182.35 583.37L182.60 583.32L182.85 583.20L183.10 583.31L183.35 583.43L183.60 583.48L183.85 583.51L184.10 583.44L184.35 583.42L184.60 583.50L184.85 583.63L185.10 583.69L185.35 583.54L185.60 583.65L185.85 583.62L186.10 583.57L186.35 583.77L186.60 583.75L186.85 583.59L187.10 583.85L187.35 583.87L187.60 583.87L187.85 583.96L188.10 583.88L188.35 583.87L188.60 584.04L188.85 583.91L189.10 583.82L189.35 583.70L189.60 583.54L189.85 583.52L190.10 583.54L190.35 583.73L190.60 583.66L190.85 583.76L191.10 583.82L191.35 583.98L191.60 584.09L191.85 584.14L192.10 583.95L192.35 584.20L192.60 584.35L192.85 584.28L193.10 584.07L193.35 583.98L193.60 584.21L193.85 584.49L194.10 584.40L194.35 584.44L194.60 584.53L194.85 584.36L195.10 584.19L195.35 584.15L195.60 584.10L195.85 584.04L196.10 583.84L196.35 583.78L196.60 583.74L196.85 583.70L197.10 583.92L197.35 583.77L197.60 583.67L197.85 583.62L198.10 583.87L198.35 583.92L198.60 583.76L198.85 583.91L199.10 583.81L199.35 583.53L199.60 583.54L199.85 583.18L200.10 583.02L200.35 583.03L200.60 583.06L200.85 583.12L201.10 583.28L201.35 583.32L201.60 583.58L201.85 583.77L202.10 583.75L202.35 583.84L202.60 584.01L202.85 583.94L203.10 583.81L203.35 583.92L203.60 584.13L203.85 584.17L204.10 584.21L204.35 584.26L204.60 584.10L204.85 584.25L205.10 584.11L205.35 584.29L205.60 584.40L205.85 584.32L206.10 584.19L206.35 584.11L206.60 584.10L206.85 584.11L207.10 584.13L207.35 584.09L207.60 584.15L207.85 584.14L208.10 584.11L208.35 584.14L208.60 584.08L208.85 584.06L209.10 583.86L209.35 583.88L209.60 584.00L209.85 584.10L210.10 584.14L210.35 584.07L210.60 584.16L210.85 584.15L211.10 583.97L211.35 584.34L211.60 584.50L211.85 584.48L212.10 584.44L212.35 584.43L212.60 584.50L212.85 584.43L213.10 584.42L213.35 584.50L213.60 584.22L213.85 584.22L214.10 584.33L214.35 584.38L214.60 584.43L214.85 584.46L215.10 584.82L215.35 584.86L215.60 584.72L215.85 584.87L216.10 584.86L216.35 584.73L216.60 584.62L216.85 584.45L217.10 584.69L217.35 584.74L217.60 584.78L217.85 584.70L218.10 584.57L218.35 584.92L218.60 584.77L218.85 584.95L219.10 584.85L219.35 585.03L219.60 584.98L219.85 584.82L220.10 584.83L220.35 584.81L220.60 584.71L220.85 584.70L221.10 584.73L221.35 584.55L221.60 584.45L221.85 584.52L222.10 584.22L222.35 584.42L222.60 584.35L222.85 584.43L223.10 584.45L223.35 584.40L223.60 584.41L223.85 584.37L224.10 584.60L224.35 584.80L224.60 584.72L224.85 584.84L225.10 584.94L225.35 585.09L225.60 584.88L225.85 584.75L226.10 584.52L226.35 584.58L226.60 584.47L226.85 584.44L227.10 584.06L227.35 583.47L227.60 583.05L227.85 582.18L228.10 581.33L228.35 580.69L228.60 580.54L228.85 580.36L229.10 580.79L229.35 581.54L229.60 582.24L229.85 582.90L230.10 583.31L230.35 583.90L230.60 584.08L230.85 584.13L231.10 584.13L231.35 584.30L231.60 584.50L231.85 584.46L232.10 584.52L232.35 584.58L232.60 584.47L232.85 584.57L233.10 584.91L233.35 584.99L233.60 585.24L233.85 585.13L234.10 585.10L234.35 585.19L234.60 585.19L234.85 585.09L235.10 585.10L235.35 584.95L235.60 584.98L235.85 584.88L236.10 584.74L236.35 584.59L236.60 584.74L236.85 584.69L237.10 584.97L237.35 585.14L237.60 585.39L237.85 585.25L238.10 585.40L238.35 585.40L238.60 585.41L238.85 585.40L239.10 585.47L239.35 585.42L239.60 585.20L239.85 585.21L240.10 585.15L240.35 585.05L240.60 585.11L240.85 585.28L241.10 585.36L241.35 585.23L241.60 585.45L241.85 585.51L242.10 585.38L242.35 585.28L242.60 585.29L242.85 585.21L243.10 585.21L243.35 585.37L243.60 585.57L243.85 585.63L244.10 585.50L244.35 585.56L244.60 585.66L244.85 585.73L245.10 585.89L245.35 585.86L245.60 585.96L245.85 585.87L246.10 586.12L246.35 586.01L246.60 586.04L246.85 586.22L247.10 586.06L247.35 586.03L247.60 586.25L247.85 586.28L248.10 586.17L248.35 586.16L248.60 586.00L248.85 585.86L249.10 585.75L249.35 585.69L249.60 585.51L249.85 585.43L250.10 585.39L250.35 585.66L250.60 585.54L250.85 585.38L251.10 585.43L251.35 585.50L251.60 585.27L251.85 585.52L252.10 585.47L252.35 585.18L252.60 585.34L252.85 585.28L253.10 585.08L253.35 585.15L253.60 585.12L253.85 585.06L254.10 585.23L254.35 585.27L254.60 585.27L254.85 585.21L255.10 585.25L255.35 585.31L255.60 585.47L255.85 585.53L256.10 585.43L256.35 585.44L256.60 585.56L256.85 585.67L257.10 585.34L257.35 585.23L257.60 585.19L257.85 585.55L258.10 585.49L258.35 585.44L258.60 585.26L258.85 585.24L259.10 585.29L259.35 585.26L259.60 585.53L259.85 585.41L260.10 585.39L260.35 585.50L260.60 585.34L260.85 585.14L261.10 585.34L261.35 585.43L261.60 585.39L261.85 585.35L262.10 585.37L262.35 585.43L262.60 585.09L262.85 584.89L263.10 584.95L263.35 585.00L263.60 584.64L263.85 584.40L264.10 584.07L264.35 583.93L264.60 584.05L264.85 584.07L265.10 584.44L265.35 584.66L265.60 584.80L265.85 584.89L266.10 585.13L266.35 585.27L266.60 585.32L266.85 585.37L267.10 585.37L267.35 585.42L267.60 585.52L267.85 585.46L268.10 585.50L268.35 585.63L268.60 585.73L268.85 585.74L269.10 585.76L269.35 585.74L269.60 585.75L269.85 585.73L270.10 585.75L270.35 585.91L270.60 585.84L270.85 585.71L271.10 585.66L271.35 585.70L271.60 585.65L271.85 585.78L272.10 586.01L272.35 585.98L272.60 586.07L272.85 585.95L273.10 586.07L273.35 586.36L273.60 586.42L273.85 586.17L274.10 586.17L274.35 586.30L274.60 586.34L274.85 586.21L275.10 586.11L275.35 586.05L275.60 585.84L275.85 585.74L276.10 585.74L276.35 585.67L276.60 585.47L276.85 585.37L277.10 585.28L277.35 585.45L277.60 585.49L277.85 585.42L278.10 585.48L278.35 585.37L278.60 585.32L278.85 585.24L279.10 585.30L279.35 585.02L279.60 584.93L279.85 585.02L280.10 585.06L280.35 584.79L280.60 584.90L280.85 584.85L281.10 584.79L281.35 584.85L281.60 585.05L281.85 585.06L282.10 585.04L282.35 584.93L282.60 584.87L282.85 584.90L283.10 584.83L283.35 584.79L283.60 584.80L283.85 584.81L284.10 584.86L284.35 584.78L284.60 584.92L284.85 584.98L285.10 584.95L285.35 585.09L285.60 585.09L285.85 585.27L286.10 585.26L286.35 585.09L286.60 584.92L286.85 584.83L287.10 584.76L287.35 584.83L287.60 584.48L287.85 584.31L288.10 584.08L288.35 584.09L288.60 584.00L288.85 584.11L289.10 583.88L289.35 583.64L289.60 583.76L289.85 583.61L290.10 583.41L290.35 583.51L290.60 583.61L290.85 583.60L291.10 583.53L291.35 583.56L291.60 583.41L291.85 583.24L292.10 583.02L292.35 582.80L292.60 582.46L292.85 582.15L293.10 582.09L293.35 581.82L293.60 581.47L293.85 580.89L294.10 579.86L294.35 578.38L294.60 576.27L294.85 573.77L295.10 570.58L295.35 566.91L295.60 563.69L295.85 561.95L296.10 562.16L296.35 564.13L296.60 566.98L296.85 570.34L297.10 573.65L297.35 576.54L297.60 578.76L297.85 580.73L298.10 582.01L298.35 582.82L298.60 583.58L298.85 583.96L299.10 584.24L299.35 584.64L299.60 584.83L299.85 584.99L300.10 585.03L300.35 585.04L300.60 585.13L300.85 585.29L301.10 585.36L301.35 585.40L301.60 585.34L301.85 585.33L302.10 585.45L302.35 585.63L302.60 585.66L302.85 585.74L303.10 585.85L303.35 585.82L303.60 585.84L303.85 585.77L304.10 585.65L304.35 585.64L304.60 585.28L304.85 585.25L305.10 585.03L305.35 584.90L305.60 584.62L305.85 584.73L306.10 584.56L306.35 584.22L306.60 583.78L306.85 583.09L307.10 582.63L307.35 582.04L307.60 581.52L307.85 581.02L308.10 580.66L308.35 580.49L308.60 580.38L308.85 580.61L309.10 580.69L309.35 581.14L309.60 581.48L309.85 581.60L310.10 581.98L310.35 582.23L310.60 582.16L310.85 582.00L311.10 581.65L311.35 580.82L311.60 579.67L311.85 578.37L312.10 577.40L312.35 576.63L312.60 576.60L312.85 577.39L313.10 578.55L313.35 579.99L313.60 581.17L313.85 582.43L314.10 583.27L314.35 584.01L314.60 584.57L314.85 584.79L315.10 584.85L315.35 585.03L315.60 585.24L315.85 585.23L316.10 585.32L316.35 585.35L316.60 585.22L316.85 585.15L317.10 585.28L317.35 585.05L317.60 585.12L317.85 585.08L318.10 585.20L318.35 585.24L318.60 585.46L318.85 585.21L319.10 585.02L319.35 585.13L319.60 585.24L319.85 585.31L320.10 584.99L320.35 584.85L320.60 584.62L320.85 584.39L321.10 584.10L321.35 583.90L321.60 583.54L321.85 583.35L322.10 583.00L322.35 582.65L322.60 582.36L322.85 582.24L323.10 582.29L323.35 582.30L323.60 582.48L323.85 582.46L324.10 582.58L324.35 582.83L324.60 583.09L324.85 583.33L325.10 583.54L325.35 583.61L325.60 583.54L325.85 583.41L326.10 583.25L326.35 582.92L326.60 583.00L326.85 583.04L327.10 582.79L327.35 583.19L327.60 583.40L327.85 583.49L328.10 583.50L328.35 583.36L328.60 583.12L328.85 582.59L329.10 581.89L329.35 580.88L329.60 580.06L329.85 579.07L330.10 578.15L330.35 577.76L330.60 577.89L330.85 578.28L331.10 579.19L331.35 580.16L331.60 581.19L331.85 582.22L332.10 583.08L332.35 583.84L332.60 584.58L332.85 584.99L333.10 585.21L333.35 585.47L333.60 585.61L333.85 585.59L334.10 585.75L334.35 585.68L334.60 585.44L334.85 585.48L335.10 585.39L335.35 585.30L335.60 584.95L335.85 584.72L336.10 584.38L336.35 584.24L336.60 584.03L336.85 583.90L337.10 584.09L337.35 583.98L337.60 584.05L337.85 584.52L338.10 584.69L338.35 584.98L338.60 585.17L338.85 585.34L339.10 585.69L339.35 585.83L339.60 585.72L339.85 585.85L340.10 586.00L340.35 586.15L340.60 586.25L340.85 586.12L341.10 585.81L341.35 585.66L341.60 585.51L341.85 585.11L342.10 585.05L342.35 585.00L342.60 584.80L342.85 584.65L343.10 584.74L343.35 584.90L343.60 584.92L343.85 584.99L344.10 585.28L344.35 585.44L344.60 585.64L344.85 585.70L345.10 585.82L345.35 585.92L345.60 586.02L345.85 585.93L346.10 585.79L346.35 585.87L346.60 585.77L346.85 585.87L347.10 585.83L347.35 585.70L347.60 585.48L347.85 585.48L348.10 585.43L348.35 585.33L348.60 585.43L348.85 585.32L349.10 585.30L349.35 585.15L349.60 585.20L349.85 585.36L350.10 585.29L350.35 585.22L350.60 585.29L350.85 585.22L351.10 585.32L351.35 585.47L351.60 585.50L351.85 585.78L352.10 585.94L352.35 586.00L352.60 585.95L352.85 586.03L353.10 586.04L353.35 586.16L353.60 586.14L353.85 585.96L354.10 586.08L354.35 585.81L354.60 585.93L354.85 585.96L355.10 585.96L355.35 585.86L355.60 586.04L355.85 586.30L356.10 586.21L356.35 586.10L356.60 586.02L356.85 585.71L357.10 585.72L357.35 585.72L357.60 585.64L357.85 585.63L358.10 585.46L358.35 585.67L358.60 585.74L358.85 586.18L359.10 586.05L359.35 586.08L359.60 585.94L359.85 585.67L360.10 585.68L360.35 585.71L360.60 585.77L360.85 585.86L361.10 585.90L361.35 585.78L361.60 585.74L361.85 585.69L362.10 585.66L362.35 585.48L362.60 585.35L362.85 585.27L363.10 585.05L363.35 584.89L363.60 584.76L363.85 584.20L364.10 583.66L364.35 583.16L364.60 582.25L364.85 581.32L365.10 580.55L365.35 579.40L365.60 578.61L365.85 578.06L366.10 577.99L366.35 578.32L366.60 579.10L366.85 579.73L367.10 580.59L367.35 581.46L367.60 582.18L367.85 582.80L368.10 583.21L368.35 583.63L368.60 583.89L368.85 584.30L369.10 584.41L369.35 584.32L369.60 584.12L369.85 584.10L370.10 584.02L370.35 583.70L370.60 583.61L370.85 583.35L371.10 582.96L371.35 582.74L371.60 582.34L371.85 582.13L372.10 581.74L372.35 581.31L372.60 580.77L372.85 579.99L373.10 578.92L373.35 578.08L373.60 576.97L373.85 575.41L374.10 573.59L374.35 570.87L374.60 566.81L374.85 559.95L375.10 546.40L375.35 519.72L375.60 470.17L375.85 391.64L376.10 287.73L376.35 181.54L376.60 115.91L376.85 119.12L377.10 169.02L377.35 235.14L377.60 309.91L377.85 387.34L378.10 454.51L378.35 504.00L378.60 535.89L378.85 554.40L379.10 564.57L379.35 569.70L379.60 572.72L379.85 575.23L380.10 576.91L380.35 578.18L380.60 579.12L380.85 579.93L381.10 580.71L381.35 581.46L381.60 581.96L381.85 582.28L382.10 582.80L382.35 583.26L382.60 583.53L382.85 584.01L383.10 584.23L383.35 584.44L383.60 584.53L383.85 584.74L384.10 584.96L384.35 585.09L384.60 585.17L384.85 585.32L385.10 585.37L385.35 585.33L385.60 585.23L385.85 585.09L386.10 585.26L386.35 585.38L386.60 585.73L386.85 585.52L387.10 585.64L387.35 585.68L387.60 585.64L387.85 585.83L388.10 585.79L388.35 585.80L388.60 586.04L388.85 586.00L389.10 585.85L389.35 586.08L389.60 585.97L389.85 585.94L390.10 585.88L390.35 585.83L390.60 585.68L390.85 585.73L391.10 585.64L391.35 585.71L391.60 585.63L391.85 585.75L392.10 585.76L392.35 585.54L392.60 585.49L392.85 585.51L393.10 585.62L393.35 585.67L393.60 585.56L393.85 585.33L394.10 585.15L394.35 584.93L394.60 584.73L394.85 584.33L395.10 584.11L395.35 583.87L395.60 583.42L395.85 583.07L396.10 582.78L396.35 582.56L396.60 582.39L396.85 582.21L397.10 582.19L397.35 582.47L397.60 582.63L397.85 582.89L398.10 583.34L398.35 583.57L398.60 583.93L398.85 584.27L399.10 584.43L399.35 584.49L399.60 584.75L399.85 584.80L400.10 584.96L400.35 584.64L400.60 584.62L400.85 584.29L401.10 584.11L401.35 583.65L401.60 582.93L401.85 582.75L402.10 582.24L402.35 581.64L402.60 581.22L402.85 581.05L403.10 580.75L403.35 580.93L403.60 581.49L403.85 581.83L404.10 582.57L404.35 582.95L404.60 583.53L404.85 583.95L405.10 584.16L405.35 584.44L405.60 584.84L405.85 585.18L406.10 585.09L406.35 585.03L406.60 585.12L406.85 584.96L407.10 584.81L407.35 584.61L407.60 584.72L407.85 584.49L408.10 584.03L408.35 583.52L408.60 582.87L408.85 582.51L409.10 581.65L409.35 580.59L409.60 579.13L409.85 578.00L410.10 576.68L410.35 575.30L410.60 573.91L410.85 572.94L411.10 572.14L411.35 572.06L411.60 572.29L411.85 573.02L412.10 573.98L412.35 575.26L412.60 576.76L412.85 577.94L413.10 579.16L413.35 580.39L413.60 581.37L413.85 582.11L414.10 582.96L414.35 583.56L414.60 583.96L414.85 584.27L415.10 584.62L415.35 585.11L415.60 585.12L415.85 585.22L416.10 585.33L416.35 585.45L416.60 585.49L416.85 585.61L417.10 585.78L417.35 585.89L417.60 585.97L417.85 586.05L418.10 586.18L418.35 586.07L418.60 586.21L418.85 586.09L419.10 586.19L419.35 586.10L419.60 585.89L419.85 585.84L420.10 585.91L420.35 585.86L420.60 585.80L420.85 585.96L421.10 585.95L421.35 585.83L421.60 585.77L421.85 585.62L422.10 585.37L422.35 585.09L422.60 584.76L422.85 584.44L423.10 584.17L423.35 583.79L423.60 583.38L423.85 582.89L424.10 582.31L424.35 581.86L424.60 581.16L424.85 580.39L425.10 579.73L425.35 579.00L425.60 578.29L425.85 577.82L426.10 577.25L426.35 577.48L426.60 577.58L426.85 578.04L427.10 578.28L427.35 578.41L427.60 579.26L427.85 579.75L428.10 580.16L428.35 580.60L428.60 580.82L428.85 581.24L429.10 581.05L429.35 580.64L429.60 579.86L429.85 578.56L430.10 576.24L430.35 572.98L430.60 568.36L430.85 562.64L431.10 556.40L431.35 550.39L431.60 546.70L431.85 546.35L432.10 548.82L432.35 552.45L432.60 556.74L432.85 561.73L433.10 566.73L433.35 571.14L433.60 575.05L433.85 578.15L434.10 580.09L434.35 581.34L434.60 582.23L434.85 582.83L435.10 583.42L435.35 583.86L435.60 584.00L435.85 584.29L436.10 584.60L436.35 584.71L436.60 584.29L436.85 583.86L437.10 583.64L437.35 583.28L437.60 582.66L437.85 582.06L438.10 581.17L438.35 580.57L438.60 580.34L438.85 580.12L439.10 580.45L439.35 580.87L439.60 581.45L439.85 582.17L440.10 582.83L440.35 583.58L440.60 584.38L440.85 585.09L441.10 585.55L441.35 585.84L441.60 585.95L441.85 585.99L442.10 585.91L442.35 585.85L442.60 585.85L442.85 585.79L443.10 585.86L443.35 585.62L443.60 585.28L443.85 584.92L444.10 584.65L444.35 584.42L444.60 584.12L444.85 584.03L445.10 583.94L445.35 583.96L445.60 584.09L445.85 584.14L446.10 584.46L446.35 584.75L446.60 585.08L446.85 585.38L447.10 585.34L447.35 585.27L447.60 585.40L447.85 585.43L448.10 585.37L448.35 585.33L448.60 585.24L448.85 585.44L449.10 585.53L449.35 585.45L449.60 585.25L449.85 585.21L450.10 585.25L450.35 585.20L450.60 585.15L450.85 585.07L451.10 584.64L451.35 584.42L451.60 584.05L451.85 583.33L452.10 582.67L452.35 582.01L452.60 581.37L452.85 580.50L453.10 579.38L453.35 578.35L453.60 577.22L453.85 576.29L454.10 575.44L454.35 574.88L454.60 574.52L454.85 574.36L455.10 574.83L455.35 575.38L455.60 576.09L455.85 577.04L456.10 578.04L456.35 578.93L456.60 579.66L456.85 580.52L457.10 581.34L457.35 582.28L457.60 582.68L457.85 583.24L458.10 583.71L458.35 584.23L458.60 584.54L458.85 584.92L459.10 585.09L459.35 585.17L459.60 585.28L459.85 585.34L460.10 585.52L460.35 585.39L460.60 585.52L460.85 585.77L461.10 585.79L461.35 585.87L461.60 585.96L461.85 585.96L462.10 585.87L462.35 585.96L462.60 585.91L462.85 585.66L463.10 585.51L463.35 585.46L463.60 585.39L463.85 585.32L464.10 585.23L464.35 585.03L464.60 584.92L464.85 585.08L465.10 584.90L465.35 584.81L465.60 584.49L465.85 584.30L466.10 583.97L466.35 583.35L466.60 583.09L466.85 582.75L467.10 582.33L467.35 581.88L467.60 581.18L467.85 579.99L468.10 578.69L468.35 577.23L468.60 575.37L468.85 572.87L469.10 570.14L469.35 567.01L469.60 563.57L469.85 560.07L470.10 556.98L470.35 554.93L470.60 554.18L470.85 554.59L471.10 555.74L471.35 557.64L471.60 560.25L471.85 563.06L472.10 566.02L472.35 568.90L472.60 571.61L472.85 574.08L473.10 576.09L473.35 577.88L473.60 579.03L473.85 580.04L474.10 581.06L474.35 581.57L474.60 582.03L474.85 582.74L475.10 582.86L475.35 583.07L475.60 583.06L475.85 583.43L476.10 583.50L476.35 583.55L476.60 583.57L476.85 583.53L477.10 583.30L477.35 583.27L477.60 582.99L477.85 582.40L478.10 581.20L478.35 579.33L478.60 576.47L478.85 572.69L479.10 568.17L479.35 563.46L479.60 559.45L479.85 557.23L480.10 557.46L480.35 559.43L480.60 562.14L480.85 564.94L481.10 568.39L481.35 571.89L481.60 575.13L481.85 578.03L482.10 580.17L482.35 581.97L482.60 583.00L482.85 583.77L483.10 584.49L483.35 584.74L483.60 585.08L483.85 585.05L484.10 585.22L484.35 585.27L484.60 585.21L484.85 585.19L485.10 585.05L485.35 584.98L485.60 584.73L485.85 584.55L486.10 584.34L486.35 584.51L486.60 584.21L486.85 584.12L487.10 584.33L487.35 584.35L487.60 584.38L487.85 584.40L488.10 584.72L488.35 584.73L488.60 584.98L488.85 584.90L489.10 585.15L489.35 585.26L489.60 585.48L489.85 585.75L490.10 585.69L490.35 585.64L490.60 585.48L490.85 585.38L491.10 585.42L491.35 585.54L491.60 585.46L491.85 585.32L492.10 585.14L492.35 584.72L492.60 584.27L492.85 583.85L493.10 583.32L493.35 582.79L493.60 582.20L493.85 581.55L494.10 580.93L494.35 580.60L494.60 580.48L494.85 580.13L495.10 580.11L495.35 580.13L495.60 580.62L495.85 581.04L496.10 581.49L496.35 582.17L496.60 582.75L496.85 583.17L497.10 583.53L497.35 583.81L497.60 584.35L497.85 584.89L498.10 585.12L498.35 585.26L498.60 585.45L498.85 585.77L499.10 585.79L499.35 585.78L499.60 585.79L499.85 585.90L500.10 585.88L500.35 585.80L500.60 585.88L500.85 586.09L501.10 586.01L501.35 585.91L501.60 585.86L501.85 585.71L502.10 585.75L502.35 585.72L502.60 585.71L502.85 585.60L503.10 585.37L503.35 585.40L503.60 585.14L503.85 584.98L504.10 584.93L504.35 584.91L504.60 584.77L504.85 584.88L505.10 584.99L505.35 585.21L505.60 585.23L505.85 585.15L506.10 585.18L506.35 585.24L506.60 585.37L506.85 585.44L507.10 585.71L507.35 585.65L507.60 585.78L507.85 585.97L508.10 586.10L508.35 586.21L508.60 586.09L508.85 585.93L509.10 586.06L509.35 585.85L509.60 585.61L509.85 585.50L510.10 585.44L510.35 585.20L510.60 584.86L510.85 584.34L511.10 583.86L511.35 583.55L511.60 582.96L511.85 582.66L512.10 582.17L512.35 582.12L512.60 582.16L512.85 582.37L513.10 582.64L513.35 582.79L513.60 583.06L513.85 583.41L514.10 583.80L514.35 584.37L514.60 584.72L514.85 584.96L515.10 585.12L515.35 584.93L515.60 584.75L515.85 584.39L516.10 583.94L516.35 583.55L516.60 582.85L516.85 582.25L517.10 582.09L517.35 582.33L517.60 582.92L517.85 583.19L518.10 583.39L518.35 583.77L518.60 584.08L518.85 584.31L519.10 584.51L519.35 584.83L519.60 584.86L519.85 584.85L520.10 585.05L520.35 585.00L520.60 585.01L520.85 584.77L521.10 584.37L521.35 584.08L521.60 583.79L521.85 582.91L522.10 581.91L522.35 580.35L522.60 578.35L522.85 574.60L523.10 568.32L523.35 558.57L523.60 544.82L523.85 527.03L524.10 507.68L524.35 492.00L524.60 486.78L524.85 492.72L525.10 503.54L525.35 513.36L525.60 521.79L525.85 530.74L526.10 541.59L526.35 552.57L526.60 562.13L526.85 569.66L527.10 574.88L527.35 578.13L527.60 580.41L527.85 581.76L528.10 582.56L528.35 583.09L528.60 583.55L528.85 584.11L529.10 584.55L529.35 584.69L529.60 584.74L529.85 584.45L530.10 584.54L530.35 584.31L530.60 584.09L530.85 584.17L531.10 584.13L531.35 584.04L531.60 584.11L531.85 584.24L532.10 584.34L532.35 584.66L532.60 584.83L532.85 585.16L533.10 585.47L533.35 585.63L533.60 585.90L533.85 586.00L534.10 585.90L534.35 585.94L534.60 585.95L534.85 585.78L535.10 585.70L535.35 585.39L535.60 585.32L535.85 584.97L536.10 584.74L536.35 584.54L536.60 584.02L536.85 583.89L537.10 583.51L537.35 583.37L537.60 583.23L537.85 583.49L538.10 583.55L538.35 583.65L538.60 584.00L538.85 584.37L539.10 584.44L539.35 584.81L539.60 585.23L539.85 585.64L540.10 585.87L540.35 586.09L540.60 586.29L540.85 586.27L541.10 586.49L541.35 586.58L541.60 586.53L541.85 586.78L542.10 586.74L542.35 586.60L542.60 586.86L542.85 587.05L543.10 587.22L543.35 587.46L543.60 587.40L543.85 587.61L544.10 587.52L544.35 587.31L544.60 587.49L544.85 587.48L545.10 587.66L545.35 587.48L545.60 587.48L545.85 587.40L546.10 587.25L546.35 587.01L546.60 586.85L546.85 586.58L547.10 586.33L547.35 585.93L547.60 585.65L547.85 585.16L548.10 584.92L548.35 584.53L548.60 583.92L548.85 583.67L549.10 583.67L549.35 583.51L549.60 583.51L549.85 583.57L550.10 583.46L550.35 583.11L550.60 582.74L550.85 582.36L551.10 581.98L551.35 581.55L551.60 580.79L551.85 580.20L552.10 579.85L552.35 579.77L552.60 579.76L552.85 579.45L553.10 579.80L553.35 580.15L553.60 580.58L553.85 581.16L554.10 581.81L554.35 582.62L554.60 583.38L554.85 583.76L555.10 584.42L555.35 584.82L555.60 585.48L555.85 585.87L556.10 586.14L556.35 586.27L556.60 586.62L556.85 586.71L557.10 586.79L557.35 586.99L557.60 587.01L557.85 587.18L558.10 587.31L558.35 587.33L558.60 587.66L558.85 587.64L559.10 587.72L559.35 587.84L559.60 587.81L559.85 587.63L560.10 587.60L560.35 587.36L560.60 587.42L560.85 587.48L561.10 587.16L561.35 586.99L561.60 586.74L561.85 586.70L562.10 586.41L562.35 586.16L562.60 585.81L562.85 585.44L563.10 584.79L563.35 584.12L563.60 583.09L563.85 581.51L564.10 578.78L564.35 575.32L564.60 570.90L564.85 565.78L565.10 560.85L565.35 557.82L565.60 557.61L565.85 559.76L566.10 562.62L566.35 565.22L566.60 567.37L566.85 569.81L567.10 572.66L567.35 575.61L567.60 578.19L567.85 580.47L568.10 581.87L568.35 582.69L568.60 582.83L568.85 582.92L569.10 582.71L569.35 582.42L569.60 582.30L569.85 582.26L570.10 582.60L570.35 582.88L570.60 583.51L570.85 584.19L571.10 584.51L571.35 584.96L571.60 585.41L571.85 585.86L572.10 586.20L572.35 586.67L572.60 586.80L572.85 587.05L573.10 587.06L573.35 587.15L573.60 587.46L573.85 587.64L574.10 587.49L574.35 587.50L574.60 587.52L574.85 587.46L575.10 587.46L575.35 587.46L575.60 587.34L575.85 587.19L576.10 586.82L576.35 586.58L576.60 586.02L576.85 585.38L577.10 584.62L577.35 583.81L577.60 582.96L577.85 581.97L578.10 580.93L578.35 579.97L578.60 579.07L578.85 578.56L579.10 578.16L579.35 578.30L579.60 578.83L579.85 579.71L580.10 580.44L580.35 581.31L580.60 582.32L580.85 583.35L581.10 584.46L581.35 585.12L581.60 585.75L581.85 585.95L582.10 586.39L582.35 586.75L582.60 586.83L582.85 587.03L583.10 587.17L583.35 587.34L583.60 587.51L583.85 587.39L584.10 587.34L584.35 587.20L584.60 587.32L584.85 587.38L585.10 587.55L585.35 587.47L585.60 587.68L585.85 587.64L586.10 587.53L586.35 587.39L586.60 587.55L586.85 587.45L587.10 587.58L587.35 587.69L587.60 587.86L587.85 587.71L588.10 587.51L588.35 587.60L588.60 587.70L588.85 587.74L589.10 587.42L589.35 587.31L589.60 587.39L589.85 587.61L590.10 587.67L590.35 587.49L590.60 587.23L590.85 587.25L591.10 587.31L591.35 587.33L591.60 587.50L591.85 587.30L592.10 587.34L592.35 587.10L592.60 587.19L592.85 587.20L593.10 586.98L593.35 586.89L593.60 586.58L593.85 586.36L594.10 586.27L594.35 585.94L594.60 585.60L594.85 585.60L595.10 585.14L595.35 584.90L595.60 584.67L595.85 584.80L596.10 584.81L596.35 584.81L596.60 584.65L596.85 584.85L597.10 584.98L597.35 585.25L597.60 585.30L597.85 585.29L598.10 585.53L598.35 585.62L598.60 585.56L598.85 585.37L599.10 585.30L599.35 585.34L599.60 585.45L599.85 585.49L600.10 585.44L600.35 585.23L600.60 584.99L600.85 584.43L601.10 583.95L601.35 583.47L601.60 582.48L601.85 581.34L602.10 580.08L602.35 578.69L602.60 577.28L602.85 575.78L603.10 574.37L603.35 573.82L603.60 574.06L603.85 574.64L604.10 575.45L604.35 576.29L604.60 577.16L604.85 578.06L605.10 579.37L605.35 580.51L605.60 581.85L605.85 582.83L606.10 583.72L606.35 584.44L606.60 584.92L606.85 585.41L607.10 585.67L607.35 585.88L607.60 586.13L607.85 586.42L608.10 586.69L608.35 586.88L608.60 587.01L608.85 587.10L609.10 586.80L609.35 586.81L609.60 586.80L609.85 586.98L610.10 587.11L610.35 587.17L610.60 587.15L610.85 587.26L611.10 587.01L611.35 587.03L611.60 586.81L611.85 587.00L612.10 586.84L612.35 586.62L612.60 586.37L612.85 586.06L613.10 585.75L613.35 585.45L613.60 585.38L613.85 585.15L614.10 585.12L614.35 584.75L614.60 584.48L614.85 584.35L615.10 584.38L615.35 584.45L615.60 584.29L615.85 584.22L616.10 584.45L616.35 584.55L616.60 585.04L616.85 585.57L617.10 585.90L617.35 586.27L617.60 586.58L617.85 586.77L618.10 586.59L618.35 586.88L618.60 587.05L618.85 587.16L619.10 587.29L619.35 587.28L619.60 587.16L619.85 587.41L620.10 587.46L620.35 587.55L620.60 587.55L620.85 587.77L621.10 588.00L621.35 588.27L621.60 588.16L621.85 588.11L622.10 588.07L622.35 588.33L622.60 588.31L622.85 588.35L623.10 588.46L623.35 588.49L623.60 588.32L623.85 588.19L624.10 588.13L624.35 588.01L624.60 588.04L624.85 587.97L625.10 587.92L625.35 587.80L625.60 587.76L625.85 587.73L626.10 587.69L626.35 587.71L626.60 587.36L626.85 587.25L627.10 587.13L627.35 586.78L627.60 586.55L627.85 586.66L628.10 586.45L628.35 586.19L628.60 585.78L628.85 585.41L629.10 585.08L629.35 584.95L629.60 584.73L629.85 584.33L630.10 583.89L630.35 583.65L630.60 583.36L630.85 583.13L631.10 582.93L631.35 582.78L631.60 582.79L631.85 582.97L632.10 582.88L632.35 582.78L632.60 582.91L632.85 582.88L633.10 582.89L633.35 582.81L633.60 582.65L633.85 582.53L634.10 582.08L634.35 581.45L634.60 580.93L634.85 579.96L635.10 578.96L635.35 578.08L635.60 577.34L635.85 576.94L636.10 576.81L636.35 576.72L636.60 576.58L636.85 576.16L637.10 575.50L637.35 574.38L637.60 573.04L637.85 570.32L638.10 566.52L638.35 561.62L638.60 554.96L638.85 546.51L639.10 536.28L639.35 524.58L639.60 511.97L639.85 499.68L640.10 489.14L640.35 482.29L640.60 480.08L640.85 482.35L641.10 487.45L641.35 494.09L641.60 501.41L641.85 509.56L642.10 518.25L642.35 527.46L642.60 536.81L642.85 545.77L643.10 553.77L643.35 560.57L643.60 566.07L643.85 570.36L644.10 573.89L644.35 576.67L644.60 578.64L644.85 580.14L645.10 581.41L645.35 582.37L645.60 583.05L645.85 583.50L646.10 584.09L646.35 584.57L646.60 584.80L646.85 585.21L647.10 585.40L647.35 585.53L647.60 585.70L647.85 585.95L648.10 586.05L648.35 586.15L648.60 586.15L648.85 586.27L649.10 586.10L649.35 586.26L649.60 586.17L649.85 586.02L650.10 585.71L650.35 585.57L650.60 585.26L650.85 585.07L651.10 584.73L651.35 584.30L651.60 584.23L651.85 584.13L652.10 584.28L652.35 584.26L652.60 584.27L652.85 584.47L653.10 584.83L653.35 585.00L653.60 585.09L653.85 585.21L654.10 585.36L654.35 585.81L654.60 586.08L654.85 586.04L655.10 586.30L655.35 586.23L655.60 586.04L655.85 585.97L656.10 585.84L656.35 585.86L656.60 585.95L656.85 585.86L657.10 585.74L657.35 585.56L657.60 585.26L657.85 585.04L658.10 584.74L658.35 584.37L658.60 584.03L658.85 583.42L659.10 582.98L659.35 582.54L659.60 582.12L659.85 581.73L660.10 581.07L660.35 580.58L660.60 580.26L660.85 579.89L661.10 579.52L661.35 579.25L661.60 578.88L661.85 578.89L662.10 578.78L662.35 578.81L662.60 579.11L662.85 579.33L663.10 579.64L663.35 579.94L663.60 580.41L663.85 580.83L664.10 581.51L664.35 582.12L664.60 582.50L664.85 582.84L665.10 583.32L665.35 583.84L665.60 584.13L665.85 584.79L666.10 585.23L666.35 585.45L666.60 585.66L666.85 586.05L667.10 586.50L667.35 586.50L667.60 586.65L667.85 586.91L668.10 587.02L668.35 587.01L668.60 587.43L668.85 587.35L669.10 587.32L669.35 587.63L669.60 587.55L669.85 587.79L670.10 587.65L670.35 587.60L670.60 587.33L670.85 587.43L671.10 587.43L671.35 587.29L671.60 587.36L671.85 587.41L672.10 587.40L672.35 587.34L672.60 587.38L672.85 587.19L673.10 586.99L673.35 586.84L673.60 586.47L673.85 586.35L674.10 586.02L674.35 585.92L674.60 585.65L674.85 585.72L675.10 585.52L675.35 585.41L675.60 585.36L675.85 585.37L676.10 585.38L676.35 585.48L676.60 585.79L676.85 585.92L677.10 586.06L677.35 586.22L677.60 586.46L677.85 586.59L678.10 586.61L678.35 586.77L678.60 586.96L678.85 586.90L679.10 586.89L679.35 586.89L679.60 586.84L679.85 586.97L680.10 587.05L680.35 586.95L680.60 587.05L680.85 587.06L681.10 587.00L681.35 586.92L681.60 586.91L681.85 586.72L682.10 586.68L682.35 586.51L682.60 586.29L682.85 586.13L683.10 585.96L683.35 586.02L683.60 586.08L683.85 586.05L684.10 585.88L684.35 585.60L684.60 585.70L684.85 585.60L685.10 585.68L685.35 585.75L685.60 585.78L685.85 585.71L686.10 585.74L686.35 585.66L686.60 585.89L686.85 585.88L687.10 585.90L687.35 586.03L687.60 586.12L687.85 586.35L688.10 586.63L688.35 586.80L688.60 587.00L688.85 586.75L689.10 586.94L689.35 586.85L689.60 586.95L689.85 587.02L690.10 587.02L690.35 587.20L690.60 587.14L690.85 587.15L691.10 587.37L691.35 587.29L691.60 587.22L691.85 587.14L692.10 586.92L692.35 586.95L692.60 586.85L692.85 586.72L693.10 586.79L693.35 586.60L693.60 586.76L693.85 586.89L694.10 586.80L694.35 586.94L694.60 586.97L694.85 587.20L695.10 587.22L695.35 587.40L695.60 587.40L695.85 587.65L696.10 587.64L696.35 587.74L696.60 587.80L696.85 587.87L697.10 587.92L697.35 588.15L697.60 588.50L697.85 588.50L698.10 588.62L698.35 588.67L698.60 588.60L698.85 588.83L699.10 588.89L699.35 588.92L699.60 589.00L699.85 588.90L700.10 588.87L700.35 588.92L700.60 588.98L700.85 588.82L701.10 588.85L701.35 588.73L701.60 588.63L701.85 588.83L702.10 588.91L702.35 588.84L702.60 588.74L702.85 588.59L703.10 588.46L703.35 588.30L703.60 588.33L703.85 588.33L704.10 588.21L704.35 588.24L704.60 588.07L704.85 588.23L705.10 588.09L705.35 588.03L705.60 588.16L705.85 587.86L706.10 587.60L706.35 587.30L706.60 587.05L706.85 586.62L707.10 585.86L707.35 585.34L707.60 585.13L707.85 584.63L708.10 584.35L708.35 584.18L708.60 584.29L708.85 584.61L709.10 584.98L709.35 585.10L709.60 585.54L709.85 585.54L710.10 585.91L710.35 586.37L710.60 586.61L710.85 586.88L711.10 587.31L711.35 587.46L711.60 587.89L711.85 588.13L712.10 588.07L712.35 588.16L712.60 588.34L712.85 588.26L713.10 588.11L713.35 588.07L713.60 588.21L713.85 588.12L714.10 587.90L714.35 587.59L714.60 587.11L714.85 586.86L715.10 586.58L715.35 586.22L715.60 585.70L715.85 585.51L716.10 585.13L716.35 585.40L716.60 585.32L716.85 585.53L717.10 585.63L717.35 585.72L717.60 586.03L717.85 586.19L718.10 586.31L718.35 586.41L718.60 586.69L718.85 586.94L719.10 587.26L719.35 586.95L719.60 586.96L719.85 586.91L720.10 586.96L720.35 586.65L720.60 586.49L720.85 586.05L721.10 585.68L721.35 585.41L721.60 585.07L721.85 584.99L722.10 584.86L722.35 584.81L722.60 584.92L722.85 584.93L723.10 585.02L723.35 584.96L723.60 585.55L723.85 585.80L724.10 586.09L724.35 586.35L724.60 586.51L724.85 586.68L725.10 586.91L725.35 587.18L725.60 587.32L725.85 587.46L726.10 587.85L726.35 588.00L726.60 588.27L726.85 588.48L727.10 588.51L727.35 588.53L727.60 588.54L727.85 588.66L728.10 588.68L728.35 588.79L728.60 588.72L728.85 588.62L729.10 588.40L729.35 588.26L729.60 588.39L729.85 588.46L730.10 588.58L730.35 588.53L730.60 588.29L730.85 588.22L731.10 588.52L731.35 588.67L731.60 588.81L731.85 588.72L732.10 588.69L732.35 588.63L732.60 588.40L732.85 588.51L733.10 588.61L733.35 588.35L733.60 588.32L733.85 588.43L734.10 588.67L734.35 588.83L734.60 589.08L734.85 589.00L735.10 588.93L735.35 588.75L735.60 588.72L735.85 588.76L736.10 588.79L736.35 588.50L736.60 588.67L736.85 588.58L737.10 588.51L737.35 588.36L737.60 588.33L737.85 588.15L738.10 587.92L738.35 587.76L738.60 587.58L738.85 587.27L739.10 586.97L739.35 586.46L739.60 585.86L739.85 585.12L740.10 584.19L740.35 583.32L740.60 582.79L740.85 582.36L741.10 582.25L741.35 582.34L741.60 582.69L741.85 583.08L742.10 583.55L742.35 584.03L742.60 584.31L742.85 584.57L743.10 584.96L743.35 585.41L743.60 585.87L743.85 586.38L744.10 586.99L744.35 587.23L744.60 587.47L744.85 587.75L745.10 588.02L745.35 587.98L745.60 588.29L745.85 588.12L746.10 588.10L746.35 587.86L746.60 588.02L746.85 588.07L747.10 588.17L747.35 588.18L747.60 588.23L747.85 588.34L748.10 588.21L748.35 588.32L748.60 588.38L748.85 588.30L749.10 588.35L749.35 588.38L749.60 588.31L749.85 588.32L750.10 588.43L750.35 588.38L750.60 588.34L750.85 588.05L751.10 588.13L751.35 587.92L751.60 587.94L751.85 587.89L752.10 587.82L752.35 587.67L752.60 587.45L752.85 587.12L753.10 587.09L753.35 586.81L753.60 586.59L753.85 586.40L754.10 586.40L754.35 586.20L754.60 586.14L754.85 586.03L755.10 586.01L755.35 585.89L755.60 585.74L755.85 585.62L756.10 585.70L756.35 585.65L756.60 585.57L756.85 585.81L757.10 585.75L757.35 586.07L757.60 586.14L757.85 586.22L758.10 586.21L758.35 586.35L758.60 586.59L758.85 586.86L759.10 587.16L759.35 587.20L759.60 587.36L759.85 587.57L760.10 587.61L760.35 587.81L760.60 587.94L760.85 588.07L761.10 587.93L761.35 587.82L761.60 587.92L761.85 588.18L762.10 588.19L762.35 588.22L762.60 588.21L762.85 588.17L763.10 588.25L763.35 588.16L763.60 588.09L763.85 588.09L764.10 588.17L764.35 588.25L764.60 588.18L764.85 588.32L765.10 588.34L765.35 588.41L765.60 588.56L765.85 588.44L766.10 588.40L766.35 588.35L766.60 588.20L766.85 588.34L767.10 588.28L767.35 588.16L767.60 587.97L767.85 588.01L768.10 587.79L768.35 587.61L768.60 587.24L768.85 586.84L769.10 586.44L769.35 585.72L769.60 585.12L769.85 584.40L770.10 583.46L770.35 582.38L770.60 581.02L770.85 579.80L771.10 578.41L771.35 577.24L771.60 576.52L771.85 576.57L772.10 576.89L772.35 577.74L772.60 578.57L772.85 579.54L773.10 580.27L773.35 580.97L773.60 581.45L773.85 582.16L774.10 583.17L774.35 583.97L774.60 584.74L774.85 585.50L775.10 586.12L775.35 586.67L775.60 587.14L775.85 587.67L776.10 587.90L776.35 587.91L776.60 587.88L776.85 588.04L777.10 588.22L777.35 588.32L777.60 588.26L777.85 588.28L778.10 588.40L778.35 588.40L778.60 588.46L778.85 588.43L779.10 588.52L779.35 588.72L779.60 588.72L779.85 588.64L780.10 588.78L780.35 588.80L780.60 588.69L780.85 588.75L781.10 588.83L781.35 588.59L781.60 588.51L781.85 588.42L782.10 588.57L782.35 588.40L782.60 588.64L782.85 588.72L783.10 588.65L783.35 588.51L783.60 588.65L783.85 588.75L784.10 588.73L784.35 588.97L784.60 588.89L784.85 588.82L785.10 588.87L785.35 588.81L785.60 588.72L785.85 588.70L786.10 588.65L786.35 588.49L786.60 588.59L786.85 588.60L787.10 588.68L787.35 588.58L787.60 588.66L787.85 588.62L788.10 588.63L788.35 588.65L788.60 588.47L788.85 588.52L789.10 588.39L789.35 588.34L789.60 588.23L789.85 588.32L790.10 588.26L790.35 588.23L790.60 588.37L790.85 588.39L791.10 588.45L791.35 588.49L791.60 588.37L791.85 588.50L792.10 588.73L792.35 588.95L792.60 588.98L792.85 589.04L793.10 589.01L793.35 588.91L793.60 588.68L793.85 588.64L794.10 588.58L794.35 588.66L794.60 588.56L794.85 588.38L795.10 588.21L795.35 588.44L795.60 588.30L795.85 588.08L796.10 587.96L796.35 588.13L796.60 588.12L796.85 588.02L797.10 587.94L797.35 588.02L797.60 588.10L797.85 587.97L798.10 588.14L798.35 587.97L798.60 588.00L798.85 588.00L799.10 588.21L799.35 588.32L799.60 588.27L799.85 588.49L800.10 588.28L800.35 588.51L800.60 588.69L800.85 588.72L801.10 588.69L801.35 588.63L801.60 588.72L801.85 588.77L802.10 588.82L802.35 588.91L802.60 589.22L802.85 589.08L803.10 589.03L803.35 589.00L803.60 589.06L803.85 589.01L804.10 588.99L804.35 588.97L804.60 588.81L804.85 588.99L805.10 588.91L805.35 588.99L805.60 588.95L805.85 588.70L806.10 588.75L806.35 588.68L806.60 588.66L806.85 588.45L807.10 588.48L807.35 588.60L807.60 588.45L807.85 588.44L808.10 588.44L808.35 588.30L808.60 588.41L808.85 588.47L809.10 588.47L809.35 588.44L809.60 588.54L809.85 588.45L810.10 588.24L810.35 588.37L810.60 588.22L810.85 588.56L811.10 588.45L811.35 588.56L811.60 588.61L811.85 588.70L812.10 588.82L812.35 589.00L812.60 589.05L812.85 588.90L813.10 588.78L813.35 588.85L813.60 588.93L813.85 589.02L814.10 589.16L814.35 588.94L814.60 588.87L814.85 588.87L815.10 588.94L815.35 589.07L815.60 588.91L815.85 588.82L816.10 588.95L816.35 588.84L816.60 588.99L816.85 588.92L817.10 589.04L817.35 589.08L817.60 589.02L817.85 588.96L818.10 588.85L818.35 588.96L818.60 588.78L818.85 588.65L819.10 588.68L819.35 588.66L819.60 588.78L819.85 588.82L820.10 588.99L820.35 588.98L820.60 588.96L820.85 588.81L821.10 588.71L821.35 588.65L821.60 588.72L821.85 588.77L822.10 588.83L822.35 588.82L822.60 589.06L822.85 588.96L823.10 589.14L823.35 589.18L823.60 589.15L823.85 589.19L824.10 588.97L824.35 588.97L824.60 588.78L824.85 588.65L825.10 588.73L825.35 588.69L825.60 588.55L825.85 588.62L826.10 588.62L826.35 588.69L826.60 588.68L826.85 588.72L827.10 588.68L827.35 588.54L827.60 588.35L827.85 588.30L828.10 588.23L828.35 588.06L828.60 588.01L828.85 588.01L829.10 587.72L829.35 587.65L829.60 587.31L829.85 587.19L830.10 586.71L830.35 586.58L830.60 586.23L830.85 585.84L831.10 585.82L831.35 585.56L831.60 585.67L831.85 585.94L832.10 585.96L832.35 586.01L832.60 586.20L832.85 586.66L833.10 586.81L833.35 587.00L833.60 587.21L833.85 587.42L834.10 587.80L834.35 588.02L834.60 587.95L834.85 587.91L835.10 588.10L835.35 588.31L835.60 588.36L835.85 588.32L836.10 588.31L836.35 588.52L836.60 588.53L836.85 588.54L837.10 588.38L837.35 588.25L837.60 588.19L837.85 588.03L838.10 588.04L838.35 587.79L838.60 587.75L838.85 587.57L839.10 587.28L839.35 587.18L839.60 587.01L839.85 586.93L840.10 586.59L840.35 586.31L840.60 586.11L840.85 585.91L841.10 586.12L841.35 586.15L841.60 586.24L841.85 586.42L842.10 586.48L842.35 586.43L842.60 586.66L842.85 586.94L843.10 587.17L843.35 587.34L843.60 587.46L843.85 587.76L844.10 587.82L844.35 588.12L844.60 588.17L844.85 588.26L845.10 588.32L845.35 588.17L845.60 588.32L845.85 588.42L846.10 588.43L846.35 588.39L846.60 588.61L846.85 588.61L847.10 588.73L847.35 588.67L847.60 588.53L847.85 588.56L848.10 588.60L848.35 588.60L848.60 588.97L848.85 588.86L849.10 588.78L849.35 588.76L849.60 588.81L849.85 588.88L850.10 588.89L850.35 588.72L850.60 588.73L850.85 588.56L851.10 588.87L851.35 588.89L851.60 588.82L851.85 588.79L852.10 588.95L852.35 588.97L852.60 588.77L852.85 588.87L853.10 588.92L853.35 588.97L853.60 588.95L853.85 588.78L854.10 588.62L854.35 588.77L854.60 588.48L854.85 588.45L855.10 588.40L855.35 588.07L855.60 587.94L855.85 587.93L856.10 587.80L856.35 587.63L856.60 587.42L856.85 587.04L857.10 586.41L857.35 585.72L857.60 585.06L857.85 583.69L858.10 582.57L858.35 581.07L858.60 579.34L858.85 577.34L859.10 575.37L859.35 573.35L859.60 571.41L859.85 570.24L860.10 569.90L860.35 570.10L860.60 570.97L860.85 572.06L861.10 573.15L861.35 574.14L861.60 575.10L861.85 575.84L862.10 576.74L862.35 577.87L862.60 578.87L862.85 580.11L863.10 581.17L863.35 582.41L863.60 583.39L863.85 584.28L864.10 585.39L864.35 586.19L864.60 586.82L864.85 587.04L865.10 587.58L865.35 587.70L865.60 587.75L865.85 587.85L866.10 587.90L866.35 588.08L866.60 588.17L866.85 588.22L867.10 588.24L867.35 588.22L867.60 588.30L867.85 588.44L868.10 588.54L868.35 588.52L868.60 588.75L868.85 588.90L869.10 588.94L869.35 588.99L869.60 589.00L869.85 589.29L870.10 589.27L870.35 589.25L870.60 589.10L870.85 589.29L871.10 589.26L871.35 589.13L871.60 589.01L871.85 588.79L872.10 588.60L872.35 588.65L872.60 588.45L872.85 588.36L873.10 588.28L873.35 587.89L873.60 587.74L873.85 587.61L874.10 587.44L874.35 587.36L874.60 587.13L874.85 587.08L875.10 587.00L875.35 587.08L875.60 587.30L875.85 587.31L876.10 587.49L876.35 587.63L876.60 587.71L876.85 587.77L877.10 587.71L877.35 587.90L877.60 587.97L877.85 588.09L878.10 588.35L878.35 588.55L878.60 588.62L878.85 588.60L879.10 588.59L879.35 588.54L879.60 588.54L879.85 588.59L880.10 588.53L880.35 588.63L880.60 588.75L880.85 588.73L881.10 588.83L881.35 588.81L881.60 588.81L881.85 588.77L882.10 588.66L882.35 588.63L882.60 588.53L882.85 588.57L883.10 588.35L883.35 588.22L883.60 587.90L883.85 587.91L884.10 587.58L884.35 587.04L884.60 586.71L884.85 586.00L885.10 585.10L885.35 584.07L885.60 583.08L885.85 581.74L886.10 580.32L886.35 579.00L886.60 577.51L886.85 576.30L887.10 575.39L887.35 574.95L887.60 574.84L887.85 575.15L888.10 575.59L888.35 576.24L888.60 577.04L888.85 577.75L889.10 578.29L889.35 579.00L889.60 579.66L889.85 580.38L890.10 581.26L890.35 582.42L890.60 583.25L890.85 584.03L891.10 584.75L891.35 585.49L891.60 585.90L891.85 586.40L892.10 586.88L892.35 587.30L892.60 587.51L892.85 587.86L893.10 588.13L893.35 588.01L893.60 587.97L893.85 587.96L894.10 587.90L894.35 587.93L894.60 588.23L894.85 588.15L895.10 588.08L895.35 588.09L895.60 588.40L895.85 588.29L896.10 588.18L896.35 588.30L896.60 588.33L896.85 588.28L897.10 588.33L897.35 588.23L897.60 588.25L897.85 588.20L898.10 588.21L898.35 588.39L898.60 588.48L898.85 588.06L899.10 588.00L899.35 587.81L899.60 587.65L899.85 587.42L900.10 587.34L900.35 587.40L900.60 587.39L900.85 587.62L901.10 587.65L901.35 587.56L901.60 587.87L901.85 587.88L902.10 587.84L902.35 587.74L902.60 587.92L902.85 588.06L903.10 588.34L903.35 588.49L903.60 588.45L903.85 588.24L904.10 588.44L904.35 588.32L904.60 588.33L904.85 588.45L905.10 588.24L905.35 588.60L905.60 588.63L905.85 588.63L906.10 588.39L906.35 588.21L906.60 587.99L906.85 588.04L907.10 587.98L907.35 587.87L907.60 587.87L907.85 587.89L908.10 587.96L908.35 588.05L908.60 588.22L908.85 587.99L909.10 588.06L909.35 588.31L909.60 588.24L909.85 588.21L910.10 588.14L910.35 587.86L910.60 587.82L910.85 587.78L911.10 587.77L911.35 587.64L911.60 587.54L911.85 587.31L912.10 586.71L912.35 586.42L912.60 586.24L912.85 585.66L913.10 585.17L913.35 584.64L913.60 584.07L913.85 583.43L914.10 582.78L914.35 582.00L914.60 581.28L914.85 580.52L915.10 580.04L915.35 579.57L915.60 579.29L915.85 578.94L916.10 578.76L916.35 578.87L916.60 578.95L916.85 578.87L917.10 579.03L917.35 579.50L917.60 579.85L917.85 580.12L918.10 580.49L918.35 580.82L918.60 581.07L918.85 581.44L919.10 581.98L919.35 582.26L919.60 582.62L919.85 582.91L920.10 583.25L920.35 583.65L920.60 583.98L920.85 584.17L921.10 584.42L921.35 584.85L921.60 584.79L921.85 585.02L922.10 585.20L922.35 585.22L922.60 585.62L922.85 585.54L923.10 585.75L923.35 585.79L923.60 585.98L923.85 586.08L924.10 586.22L924.35 586.37L924.60 586.75L924.85 587.07L925.10 587.20L925.35 587.15L925.60 587.36L925.85 587.43L926.10 587.54L926.35 587.61L926.60 587.61L926.85 587.91L927.10 587.98L927.35 588.09L927.60 588.21L927.85 588.38L928.10 588.52L928.35 588.68L928.60 588.83L928.85 588.53L929.10 588.36L929.35 588.41L929.60 588.36L929.85 588.52L930.10 588.87L930.35 589.08L930.60 589.03L930.85 588.83L931.10 588.82L931.35 588.92L931.60 588.93L931.85 589.02L932.10 589.14L932.35 589.12L932.60 589.11L932.85 589.15L933.10 589.19L933.35 589.23L933.60 589.12L933.85 588.88L934.10 588.85L934.35 588.53L934.60 588.70L934.85 588.61L935.10 588.70L935.35 588.65L935.60 588.57L935.85 588.42L936.10 588.22L936.35 588.22L936.60 588.28L936.85 588.19L937.10 588.03L937.35 587.97L937.60 587.69L937.85 587.29L938.10 587.23L938.35 586.88L938.60 586.38L938.85 586.14L939.10 585.50L939.35 584.77L939.60 584.03L939.85 582.77L940.10 581.47L940.35 580.10L940.60 578.47L940.85 576.73L941.10 575.00L941.35 573.45L941.60 572.24L941.85 571.69L942.10 571.57L942.35 571.88L942.60 572.90L942.85 573.49L943.10 574.45L943.35 575.43L943.60 576.41L943.85 577.05L944.10 577.71L944.35 578.49L944.60 579.34L944.85 580.34L945.10 581.38L945.35 582.35L945.60 583.34L945.85 584.10L946.10 584.87L946.35 585.52L946.60 586.04L946.85 586.37L947.10 586.72L947.35 587.04L947.60 587.35L947.85 587.67L948.10 587.89L948.35 587.96L948.60 588.05L948.85 588.21L949.10 588.45L949.35 588.69L949.60 588.68L949.85 588.59L950.10 588.59L950.35 588.79L950.60 588.84L950.85 588.82L951.10 588.95L951.35 588.91L951.60 588.94L951.85 589.05L952.10 589.19L952.35 589.08L952.60 589.03L952.85 589.13L953.10 589.24L953.35 589.11L953.60 589.03L953.85 589.07L954.10 588.88L954.35 588.93L954.60 589.06L954.85 588.93L955.10 588.97L955.35 588.93L955.60 588.94L955.85 589.07L956.10 589.21L956.35 589.21L956.60 589.03L956.85 589.15L957.10 588.98L957.35 588.96L957.60 589.10L957.85 589.06L958.10 588.99L958.35 589.10L958.60 589.34L958.85 589.26L959.10 589.37L959.35 589.28L959.60 589.47L959.85 589.43L960.10 589.48L960.35 589.59L960.60 589.54L960.85 589.45L961.10 589.44L961.35 589.51L961.60 589.39L961.85 589.51L962.10 589.34L962.35 589.17L962.60 588.87L962.85 588.68L963.10 588.56L963.35 588.44L963.60 588.35L963.85 588.41L964.10 588.11L964.35 587.93L964.60 587.86L964.85 587.87L965.10 587.56L965.35 587.38L965.60 587.41L965.85 587.22L966.10 586.91L966.35 586.87L966.60 586.79L966.85 586.84L967.10 586.93L967.35 586.83L967.60 586.53L967.85 586.62L968.10 586.75L968.35 586.78L968.60 586.95L968.85 586.99L969.10 587.04L969.35 587.31L969.60 587.58L969.85 587.72L970.10 587.75L970.35 587.85L970.60 587.83L970.85 588.13L971.10 588.19L971.35 588.37L971.60 588.45L971.85 588.50L972.10 588.70L972.35 588.79L972.60 588.98L972.85 588.98L973.10 589.11L973.35 589.19L973.60 589.17L973.85 589.26L974.10 589.12L974.35 589.21L974.60 589.11L974.85 589.09L975.10 589.23L975.35 589.25L975.60 589.35L975.85 589.38L976.10 589.40L976.35 589.16L976.60 589.22L976.85 589.04L977.10 589.00L977.35 589.18L977.60 589.46L977.85 589.35L978.10 589.58L978.35 589.46L978.60 589.31L978.85 589.26L979.10 589.28L979.35 589.31L979.60 589.27L979.85 589.30L980.10 589.36L980.35 589.39L980.60 589.24L980.85 589.31L981.10 589.26L981.35 589.40L981.60 589.47L981.85 589.61L982.10 589.60L982.35 589.48L982.60 589.42L982.85 589.46L983.10 589.37L983.35 589.40L983.60 589.34L983.85 589.30L984.10 589.23L984.35 589.53L984.60 589.66L984.85 589.53L985.10 589.51L985.35 589.22L985.70 589.26"/>
<path stroke="#000000" stroke-width="0.9" stroke-linecap="butt" d="M375.25 144.5L375.0 162"/>
<path stroke="#0000ff" d="M175.60 592.71L175.85 592.77L176.10 591.97L176.35 592.24L176.60 592.11L176.85 592.12L177.10 592.38L177.35 593.09L177.60 592.68L177.85 592.83L178.10 593.29L178.35 593.09L178.60 592.89L178.85 592.61L179.10 592.78L179.35 593.07L179.60 592.75L179.85 592.92L180.10 592.94L180.35 592.66L180.60 593.23L180.85 593.00L181.10 593.52L181.35 593.40L181.60 593.57L181.85 593.34L182.10 593.06L182.35 593.09L182.60 592.95L182.85 593.16L183.10 593.01L183.35 592.87L183.60 593.13L183.85 593.00L184.10 592.86L184.35 593.31L184.60 592.83L184.85 593.15L185.10 593.19L185.35 593.66L185.60 593.46L185.85 592.66L186.10 592.65L186.35 592.38L186.60 593.11L186.85 593.42L187.10 593.06L187.35 592.73L187.60 592.61L187.85 593.21L188.10 592.80L188.35 592.90L188.60 592.76L188.85 592.59L189.10 592.80L189.35 593.23L189.60 593.26L189.85 593.33L190.10 593.45L190.35 593.18L190.60 592.67L190.85 592.96L191.10 593.11L191.35 593.26L191.60 593.50L191.85 593.19L192.10 593.08L192.35 593.07L192.60 593.25L192.85 593.02L193.10 593.42L193.35 593.05L193.60 593.21L193.85 592.92L194.10 593.17L194.35 592.97L194.60 592.81L194.85 592.74L195.10 592.32L195.35 592.55L195.60 592.78L195.85 592.49L196.10 592.94L196.35 592.89L196.60 592.77L196.85 592.61L197.10 592.30L197.35 593.08L197.60 593.07L197.85 592.64L198.10 592.90L198.35 592.90L198.60 592.48L198.85 593.09L199.10 593.00L199.35 592.85L199.60 593.25L199.85 593.65L200.10 593.64L200.35 593.44L200.60 593.19L200.85 592.61L201.10 592.43L201.35 593.18L201.60 592.92L201.85 592.79L202.10 592.52L202.35 592.87L202.60 593.18L202.85 593.19L203.10 592.84L203.35 592.89L203.60 592.66L203.85 592.61L204.10 593.04L204.35 593.28L204.60 592.70L204.85 593.30L205.10 593.35L205.35 593.35L205.60 593.61L205.85 593.74L206.10 593.43L206.35 592.81L206.60 593.06L206.85 593.31L207.10 593.29L207.35 592.97L207.60 593.34L207.85 593.33L208.10 593.72L208.35 593.15L208.60 592.85L208.85 592.53L209.10 592.99L209.35 592.33L209.60 592.26L209.85 592.61L210.10 592.93L210.35 592.97L210.60 593.21L210.85 592.86L211.10 593.05L211.35 593.19L211.60 593.02L211.85 592.85L212.10 593.09L212.35 593.17L212.60 593.36L212.85 592.97L213.10 592.84L213.35 593.08L213.60 593.02L213.85 592.72L214.10 593.08L214.35 592.75L214.60 592.89L214.85 592.81L215.10 593.55L215.35 592.96L215.60 592.72L215.85 592.62L216.10 592.80L216.35 592.68L216.60 592.95L216.85 592.65L217.10 592.67L217.35 593.10L217.60 593.24L217.85 592.99L218.10 592.91L218.35 593.43L218.60 593.68L218.85 593.01L219.10 592.80L219.35 592.04L219.60 592.71L219.85 592.76L220.10 592.79L220.35 592.63L220.60 592.30L220.85 592.02L221.10 592.82L221.35 592.46L221.60 592.99L221.85 592.73L222.10 592.68L222.35 592.57L222.60 593.00L222.85 592.33L223.10 592.59L223.35 592.70L223.60 592.87L223.85 593.15L224.10 592.79L224.35 592.85L224.60 592.70L224.85 592.34L225.10 592.82L225.35 593.10L225.60 593.10L225.85 592.88L226.10 593.06L226.35 592.89L226.60 592.88L226.85 593.41L227.10 593.48L227.35 593.97L227.60 593.59L227.85 593.49L228.10 593.07L228.35 592.96L228.60 593.01L228.85 592.81L229.10 592.85L229.35 593.38L229.60 593.33L229.85 593.24L230.10 592.68L230.35 593.09L230.60 593.24L230.85 593.28L231.10 593.15L231.35 593.31L231.60 593.22L231.85 593.41L232.10 593.43L232.35 593.37L232.60 593.02L232.85 593.28L233.10 593.07L233.35 593.00L233.60 592.85L233.85 593.60L234.10 593.44L234.35 593.30L234.60 593.01L234.85 592.90L235.10 592.29L235.35 592.21L235.60 592.32L235.85 592.64L236.10 592.87L236.35 592.76L236.60 593.52L236.85 593.06L237.10 593.33L237.35 593.14L237.60 593.58L237.85 593.73L238.10 593.77L238.35 593.64L238.60 593.47L238.85 593.29L239.10 593.24L239.35 593.17L239.60 593.60L239.85 593.38L240.10 593.63L240.35 593.44L240.60 593.03L240.85 593.23L241.10 592.72L241.35 592.82L241.60 592.82L241.85 593.11L242.10 593.05L242.35 592.74L242.60 592.90L242.85 593.21L243.10 593.32L243.35 592.76L243.60 592.92L243.85 593.11L244.10 593.31L244.35 593.56L244.60 593.36L244.85 593.13L245.10 593.27L245.35 593.35L245.60 593.23L245.85 593.16L246.10 593.23L246.35 593.02L246.60 593.19L246.85 592.88L247.10 593.25L247.35 593.24L247.60 593.14L247.85 593.10L248.10 593.35L248.35 592.49L248.60 592.37L248.85 593.10L249.10 592.82L249.35 593.19L249.60 592.98L249.85 593.33L250.10 593.11L250.35 592.98L250.60 592.65L250.85 592.41L251.10 592.86L251.35 592.87L251.60 593.05L251.85 593.00L252.10 593.12L252.35 593.47L252.60 592.96L252.85 593.50L253.10 593.25L253.35 592.93L253.60 592.75L253.85 593.06L254.10 593.02L254.35 592.78L254.60 592.44L254.85 592.21L255.10 592.89L255.35 592.66L255.60 592.80L255.85 592.50L256.10 593.10L256.35 593.00L256.60 592.52L256.85 592.83L257.10 592.79L257.35 592.92L257.60 592.41L257.85 592.74L258.10 592.97L258.35 592.80L258.60 592.95L258.85 592.31L259.10 592.47L259.35 592.76L259.60 592.48L259.85 592.56L260.10 592.60L260.35 592.72L260.60 592.70L260.85 593.16L261.10 593.40L261.35 593.17L261.60 593.18L261.85 592.71L262.10 592.07L262.35 592.05L262.60 592.35L262.85 592.53L263.10 592.84L263.35 593.06L263.60 592.63L263.85 593.10L264.10 592.74L264.35 592.79L264.60 592.51L264.85 592.53L265.10 592.44L265.35 592.70L265.60 593.09L265.85 592.89L266.10 592.59L266.35 592.36L266.60 592.13L266.85 592.82L267.10 593.11L267.35 592.59L267.60 592.72L267.85 592.08L268.10 592.51L268.35 593.20L268.60 593.17L268.85 592.56L269.10 593.17L269.35 592.90L269.60 593.26L269.85 592.48L270.10 592.84L270.35 593.06L270.60 593.39L270.85 593.42L271.10 593.76L271.35 593.44L271.60 592.53L271.85 592.58L272.10 592.74L272.35 593.12L272.60 592.90L272.85 593.01L273.10 593.03L273.35 592.45L273.60 592.34L273.85 592.65L274.10 592.29L274.35 592.43L274.60 592.31L274.85 592.42L275.10 592.16L275.35 592.26L275.60 592.66L275.85 592.53L276.10 592.69L276.35 592.71L276.60 592.50L276.85 593.09L277.10 593.22L277.35 593.14L277.60 593.04L277.85 592.64L278.10 593.23L278.35 592.55L278.60 592.45L278.85 592.85L279.10 592.87L279.35 593.07L279.60 592.84L279.85 592.87L280.10 592.83L280.35 592.91L280.60 592.70L280.85 593.19L281.10 593.21L281.35 593.24L281.60 593.13L281.85 592.98L282.10 593.07L282.35 592.93L282.60 593.30L282.85 593.28L283.10 593.33L283.35 593.64L283.60 593.57L283.85 593.43L284.10 593.47L284.35 593.97L284.60 593.76L284.85 593.87L285.10 593.80L285.35 593.60L285.60 593.15L285.85 593.16L286.10 593.42L286.35 593.33L286.60 592.87L286.85 593.37L287.10 592.74L287.35 593.26L287.60 593.27L287.85 593.24L288.10 593.23L288.35 592.69L288.60 592.54L288.85 592.67L289.10 592.48L289.35 592.76L289.60 593.13L289.85 592.91L290.10 592.75L290.35 592.66L290.60 593.22L290.85 592.76L291.10 593.12L291.35 593.02L291.60 592.77L291.85 592.30L292.10 593.20L292.35 593.45L292.60 593.07L292.85 593.05L293.10 593.01L293.35 593.75L293.60 593.09L293.85 592.80L294.10 592.65L294.35 589.97L294.60 588.35L294.85 586.31L295.10 586.91L295.35 589.41L295.60 591.24L295.85 592.59L296.10 593.92L296.35 595.56L296.60 597.80L296.85 597.49L297.10 594.77L297.35 593.54L297.60 592.84L297.85 592.16L298.10 592.20L298.35 592.41L298.60 592.38L298.85 592.60L299.10 592.91L299.35 592.74L299.60 592.94L299.85 592.61L300.10 593.12L300.35 593.40L300.60 593.08L300.85 593.10L301.10 593.20L301.35 593.34L301.60 593.31L301.85 593.15L302.10 592.60L302.35 592.86L302.60 593.54L302.85 593.12L303.10 592.54L303.35 593.01L303.60 593.27L303.85 593.24L304.10 593.74L304.35 593.40L304.60 593.01L304.85 593.24L305.10 592.94L305.35 593.13L305.60 593.47L305.85 593.20L306.10 592.69L306.35 591.96L306.60 591.99L306.85 592.31L307.10 592.42L307.35 592.60L307.60 592.31L307.85 592.46L308.10 592.45L308.35 592.31L308.60 592.80L308.85 592.86L309.10 592.62L309.35 592.66L309.60 592.66L309.85 592.87L310.10 592.85L310.35 592.29L310.60 592.00L310.85 592.68L311.10 592.37L311.35 591.84L311.60 591.51L311.85 591.88L312.10 592.32L312.35 593.17L312.60 594.91L312.85 596.02L313.10 596.23L313.35 594.79L313.60 593.25L313.85 592.51L314.10 592.53L314.35 592.42L314.60 592.43L314.85 592.24L315.10 592.10L315.35 592.49L315.60 592.62L315.85 592.31L316.10 592.27L316.35 592.32L316.60 592.56L316.85 592.77L317.10 592.65L317.35 592.72L317.60 592.35L317.85 592.24L318.10 593.04L318.35 592.78L318.60 592.44L318.85 592.33L319.10 592.76L319.35 593.20L319.60 592.98L319.85 592.67L320.10 592.86L320.35 593.31L320.60 593.47L320.85 593.14L321.10 593.40L321.35 593.44L321.60 593.22L321.85 592.93L322.10 593.68L322.35 593.60L322.60 592.99L322.85 593.14L323.10 593.26L323.35 593.06L323.60 593.34L323.85 593.58L324.10 593.26L324.35 592.63L324.60 592.56L324.85 592.87L325.10 592.72L325.35 593.17L325.60 593.53L325.85 593.89L326.10 593.50L326.35 593.17L326.60 593.08L326.85 593.15L327.10 593.23L327.35 592.90L327.60 593.01L327.85 593.52L328.10 592.91L328.35 593.07L328.60 592.82L328.85 592.98L329.10 592.68L329.35 592.91L329.60 592.62L329.85 592.80L330.10 593.08L330.35 593.27L330.60 593.03L330.85 593.29L331.10 593.03L331.35 593.16L331.60 593.37L331.85 593.41L332.10 593.25L332.35 592.68L332.60 592.47L332.85 592.59L333.10 592.90L333.35 592.45L333.60 592.71L333.85 592.73L334.10 593.12L334.35 592.73L334.60 592.81L334.85 593.03L335.10 592.94L335.35 593.23L335.60 593.25L335.85 593.05L336.10 593.71L336.35 592.96L336.60 592.22L336.85 592.87L337.10 592.92L337.35 593.27L337.60 592.98L337.85 592.82L338.10 592.51L338.35 592.88L338.60 592.87L338.85 592.91L339.10 592.84L339.35 592.18L339.60 592.44L339.85 592.68L340.10 592.95L340.35 592.74L340.60 592.24L340.85 592.41L341.10 592.24L341.35 593.10L341.60 592.77L341.85 593.03L342.10 592.78L342.35 592.76L342.60 592.90L342.85 593.65L343.10 593.43L343.35 593.75L343.60 593.68L343.85 593.67L344.10 593.26L344.35 593.63L344.60 593.66L344.85 593.55L345.10 593.36L345.35 593.40L345.60 593.25L345.85 593.27L346.10 592.92L346.35 593.09L346.60 592.95L346.85 593.51L347.10 593.97L347.35 593.93L347.60 593.51L347.85 593.93L348.10 593.34L348.35 593.14L348.60 593.04L348.85 593.24L349.10 593.31L349.35 593.07L349.60 593.09L349.85 593.12L350.10 593.26L350.35 593.33L350.60 593.01L350.85 593.18L351.10 593.42L351.35 593.68L351.60 593.40L351.85 593.64L352.10 593.95L352.35 593.43L352.60 593.54L352.85 593.97L353.10 593.66L353.35 592.89L353.60 593.14L353.85 593.45L354.10 593.62L354.35 593.12L354.60 592.98L354.85 592.87L355.10 593.06L355.35 592.86L355.60 592.48L355.85 592.69L356.10 592.84L356.35 593.07L356.60 592.76L356.85 592.42L357.10 592.49L357.35 592.90L357.60 592.75L357.85 592.28L358.10 592.70L358.35 592.47L358.60 592.38L358.85 592.18L359.10 592.96L359.35 593.39L359.60 592.90L359.85 592.70L360.10 592.84L360.35 592.67L360.60 592.71L360.85 592.39L361.10 593.20L361.35 593.07L361.60 593.29L361.85 593.18L362.10 593.29L362.35 593.21L362.60 592.77L362.85 592.60L363.10 592.31L363.35 592.70L363.60 592.61L363.85 592.65L364.10 592.61L364.35 592.08L364.60 592.39L364.85 592.31L365.10 592.46L365.35 592.64L365.60 592.67L365.85 592.35L366.10 592.56L366.35 592.48L366.60 592.64L366.85 592.47L367.10 592.64L367.35 592.41L367.60 592.76L367.85 592.56L368.10 592.10L368.35 592.22L368.60 592.32L368.85 592.56L369.10 592.26L369.35 592.48L369.60 592.29L369.85 592.66L370.10 592.60L370.35 592.24L370.60 592.43L370.85 592.69L371.10 592.99L371.35 592.90L371.60 592.55L371.85 592.44L372.10 592.78L372.35 592.83L372.60 592.99L372.85 592.87L373.10 592.74L373.35 592.45L373.60 591.77L373.85 591.79L374.10 591.43L374.35 591.46L374.60 589.35L374.85 586.42L375.10 581.64L375.35 574.88L375.60 567.46L375.85 561.77L376.10 561.56L376.35 569.09L376.60 582.95L376.85 598.75L377.10 610.89L377.35 611.91L377.60 605.96L377.85 599.37L378.10 595.29L378.35 593.53L378.60 593.19L378.85 593.19L379.10 593.15L379.35 592.79L379.60 593.07L379.85 593.42L380.10 593.68L380.35 593.39L380.60 593.20L380.85 593.32L381.10 593.34L381.35 593.22L381.60 593.20L381.85 593.05L382.10 592.83L382.35 592.81L382.60 592.75L382.85 593.26L383.10 592.90L383.35 592.80L383.60 593.01L383.85 593.20L384.10 593.03L384.35 593.19L384.60 593.68L384.85 593.65L385.10 593.16L385.35 593.14L385.60 593.33L385.85 593.05L386.10 593.41L386.35 593.35L386.60 593.21L386.85 593.25L387.10 593.56L387.35 593.31L387.60 592.88L387.85 593.79L388.10 593.59L388.35 593.65L388.60 593.53L388.85 593.79L389.10 592.76L389.35 593.03L389.60 592.98L389.85 593.25L390.10 593.37L390.35 593.19L390.60 592.96L390.85 592.40L391.10 592.61L391.35 592.36L391.60 593.08L391.85 593.10L392.10 593.30L392.35 593.63L392.60 592.25L392.85 592.93L393.10 593.12L393.35 593.48L393.60 593.55L393.85 593.57L394.10 593.15L394.35 593.36L394.60 593.24L394.85 593.10L395.10 593.37L395.35 593.06L395.60 593.12L395.85 592.93L396.10 593.13L396.35 593.14L396.60 592.96L396.85 592.73L397.10 593.19L397.35 592.96L397.60 593.28L397.85 593.22L398.10 593.05L398.35 593.02L398.60 593.75L398.85 593.57L399.10 593.26L399.35 593.11L399.60 593.25L399.85 592.84L400.10 593.42L400.35 593.07L400.60 592.88L400.85 593.01L401.10 592.93L401.35 592.72L401.60 593.03L401.85 592.95L402.10 592.71L402.35 592.86L402.60 593.46L402.85 593.40L403.10 593.21L403.35 593.32L403.60 592.83L403.85 592.98L404.10 592.28L404.35 592.46L404.60 593.00L404.85 592.96L405.10 592.36L405.35 592.37L405.60 592.88L405.85 592.36L406.10 592.65L406.35 592.15L406.60 592.54L406.85 592.50L407.10 592.55L407.35 592.91L407.60 592.84L407.85 592.61L408.10 592.63L408.35 592.83L408.60 592.79L408.85 592.49L409.10 592.52L409.35 592.60L409.60 592.61L409.85 593.19L410.10 593.09L410.35 593.29L410.60 592.99L410.85 593.42L411.10 593.10L411.35 593.39L411.60 593.00L411.85 593.37L412.10 593.34L412.35 593.19L412.60 593.25L412.85 593.25L413.10 592.89L413.35 592.51L413.60 593.47L413.85 593.59L414.10 593.09L414.35 592.89L414.60 593.13L414.85 593.10L415.10 593.26L415.35 592.42L415.60 592.80L415.85 593.16L416.10 593.49L416.35 593.42L416.60 592.67L416.85 592.72L417.10 592.11L417.35 592.17L417.60 592.18L417.85 592.16L418.10 592.13L418.35 592.04L418.60 592.62L418.85 592.98L419.10 592.96L419.35 592.81L419.60 592.91L419.85 593.21L420.10 593.28L420.35 592.69L420.60 592.28L420.85 592.88L421.10 592.75L421.35 592.85L421.60 593.04L421.85 592.69L422.10 592.83L422.35 592.57L422.60 592.75L422.85 593.02L423.10 593.79L423.35 593.23L423.60 592.89L423.85 593.08L424.10 592.83L424.35 592.67L424.60 593.39L424.85 593.15L425.10 592.93L425.35 592.76L425.60 592.93L425.85 592.85L426.10 593.02L426.35 592.93L426.60 593.09L426.85 593.44L427.10 592.93L427.35 592.87L427.60 592.70L427.85 592.81L428.10 592.61L428.35 592.66L428.60 592.46L428.85 592.59L429.10 592.59L429.35 592.81L429.60 592.80L429.85 592.82L430.10 593.02L430.35 592.01L430.60 589.75L430.85 587.00L431.10 586.15L431.35 588.09L431.60 592.46L431.85 598.13L432.10 600.85L432.35 599.04L432.60 595.42L432.85 593.47L433.10 593.41L433.35 593.69L433.60 592.66L433.85 592.85L434.10 592.49L434.35 592.31L434.60 592.60L434.85 593.00L435.10 592.53L435.35 592.63L435.60 592.53L435.85 592.64L436.10 592.57L436.35 592.52L436.60 593.02L436.85 593.35L437.10 592.96L437.35 592.78L437.60 592.47L437.85 592.42L438.10 592.52L438.35 591.98L438.60 591.82L438.85 591.84L439.10 591.83L439.35 592.38L439.60 592.33L439.85 592.35L440.10 592.84L440.35 592.84L440.60 592.64L440.85 593.00L441.10 592.70L441.35 592.60L441.60 592.64L441.85 592.71L442.10 592.53L442.35 592.49L442.60 592.59L442.85 593.07L443.10 593.41L443.35 592.61L443.60 593.04L443.85 593.15L444.10 593.47L444.35 593.34L444.60 593.29L444.85 592.84L445.10 593.57L445.35 593.67L445.60 593.33L445.85 593.03L446.10 593.03L446.35 592.91L446.60 592.98L446.85 592.75L447.10 592.32L447.35 592.47L447.60 592.73L447.85 592.53L448.10 592.58L448.35 592.96L448.60 593.18L448.85 593.23L449.10 593.14L449.35 592.84L449.60 593.10L449.85 592.94L450.10 592.84L450.35 593.06L450.60 592.96L450.85 592.68L451.10 592.36L451.35 592.93L451.60 592.61L451.85 592.73L452.10 592.50L452.35 592.68L452.60 592.40L452.85 592.59L453.10 592.86L453.35 593.09L453.60 593.25L453.85 593.02L454.10 592.72L454.35 592.56L454.60 592.55L454.85 592.95L455.10 592.98L455.35 593.00L455.60 592.84L455.85 592.63L456.10 592.42L456.35 592.61L456.60 593.37L456.85 593.39L457.10 593.74L457.35 593.36L457.60 593.47L457.85 593.05L458.10 593.00L458.35 592.49L458.60 592.43L458.85 592.81L459.10 592.45L459.35 592.67L459.60 592.66L459.85 592.44L460.10 593.07L460.35 592.92L460.60 592.35L460.85 592.78L461.10 592.78L461.35 592.90L461.60 592.98L461.85 593.32L462.10 593.24L462.35 593.52L462.60 593.03L462.85 592.95L463.10 592.78L463.35 593.47L463.60 593.17L463.85 593.12L464.10 592.86L464.35 593.23L464.60 593.00L464.85 592.72L465.10 592.42L465.35 593.31L465.60 593.60L465.85 593.73L466.10 593.19L466.35 592.92L466.60 592.99L466.85 593.11L467.10 592.61L467.35 592.37L467.60 592.42L467.85 592.45L468.10 592.00L468.35 591.99L468.60 591.22L468.85 590.49L469.10 589.44L469.35 589.76L469.60 591.10L469.85 592.00L470.10 592.55L470.35 592.50L470.60 592.76L470.85 592.99L471.10 594.08L471.35 595.49L471.60 595.71L471.85 595.48L472.10 593.61L472.35 592.85L472.60 593.37L472.85 593.19L473.10 593.20L473.35 593.06L473.60 593.03L473.85 593.12L474.10 592.77L474.35 592.92L474.60 592.61L474.85 592.84L475.10 592.87L475.35 592.35L475.60 592.81L475.85 593.14L476.10 593.08L476.35 592.97L476.60 592.95L476.85 593.07L477.10 592.79L477.35 592.53L477.60 592.67L477.85 592.75L478.10 592.47L478.35 590.66L478.60 588.49L478.85 583.75L479.10 580.10L479.35 580.66L479.60 586.05L479.85 591.15L480.10 595.30L480.35 597.78L480.60 597.12L480.85 595.20L481.10 593.85L481.35 593.14L481.60 593.09L481.85 592.99L482.10 592.98L482.35 593.08L482.60 593.20L482.85 592.56L483.10 593.03L483.35 593.15L483.60 593.13L483.85 593.35L484.10 593.35L484.35 592.85L484.60 592.66L484.85 592.84L485.10 592.21L485.35 592.60L485.60 592.56L485.85 593.17L486.10 592.76L486.35 592.50L486.60 592.94L486.85 592.56L487.10 593.10L487.35 593.46L487.60 593.29L487.85 593.54L488.10 593.18L488.35 593.48L488.60 593.37L488.85 593.71L489.10 593.36L489.35 592.84L489.60 593.05L489.85 593.07L490.10 592.92L490.35 593.50L490.60 593.89L490.85 593.47L491.10 593.33L491.35 593.35L491.60 593.59L491.85 593.10L492.10 593.35L492.35 593.43L492.60 593.41L492.85 593.14L493.10 593.39L493.35 593.49L493.60 592.69L493.85 593.05L494.10 592.75L494.35 592.91L494.60 592.97L494.85 593.00L495.10 593.14L495.35 593.02L495.60 593.72L495.85 593.25L496.10 593.15L496.35 593.23L496.60 593.23L496.85 592.60L497.10 592.53L497.35 592.73L497.60 593.04L497.85 593.23L498.10 592.86L498.35 593.20L498.60 593.59L498.85 593.32L499.10 593.55L499.35 593.77L499.60 593.13L499.85 593.65L500.10 593.51L500.35 593.35L500.60 593.17L500.85 593.56L501.10 593.47L501.35 593.35L501.60 592.78L501.85 592.70L502.10 593.04L502.35 592.69L502.60 592.51L502.85 592.61L503.10 592.72L503.35 592.82L503.60 593.17L503.85 593.06L504.10 592.37L504.35 592.01L504.60 591.86L504.85 592.22L505.10 592.34L505.35 593.04L505.60 592.97L505.85 593.25L506.10 592.83L506.35 593.30L506.60 593.46L506.85 593.43L507.10 593.06L507.35 592.65L507.60 593.08L507.85 592.68L508.10 592.78L508.35 593.14L508.60 592.89L508.85 593.12L509.10 593.00L509.35 593.01L509.60 592.34L509.85 592.51L510.10 593.16L510.35 593.03L510.60 592.82L510.85 593.09L511.10 593.34L511.35 593.45L511.60 594.07L511.85 593.52L512.10 593.52L512.35 593.05L512.60 593.21L512.85 592.94L513.10 592.78L513.35 592.56L513.60 592.64L513.85 593.03L514.10 592.19L514.35 592.18L514.60 591.92L514.85 591.78L515.10 591.64L515.35 591.54L515.60 590.87L515.85 589.82L516.10 589.83L516.35 590.11L516.60 591.62L516.85 592.33L517.10 593.31L517.35 593.67L517.60 594.58L517.85 593.80L518.10 593.35L518.35 592.67L518.60 592.86L518.85 592.60L519.10 592.27L519.35 591.27L519.60 589.84L519.85 589.01L520.10 589.11L520.35 590.64L520.60 592.34L520.85 593.43L521.10 594.91L521.35 595.28L521.60 594.41L521.85 593.30L522.10 592.21L522.35 591.18L522.60 589.25L522.85 585.38L523.10 579.62L523.35 573.02L523.60 566.02L523.85 562.10L524.10 564.10L524.35 572.95L524.60 587.06L524.85 601.25L525.10 609.26L525.35 607.62L525.60 601.20L525.85 596.28L526.10 593.80L526.35 592.76L526.60 592.43L526.85 592.28L527.10 592.60L527.35 592.57L527.60 592.37L527.85 592.82L528.10 593.07L528.35 592.49L528.60 592.61L528.85 592.73L529.10 592.52L529.35 592.39L529.60 592.05L529.85 592.36L530.10 592.52L530.35 592.48L530.60 592.39L530.85 592.89L531.10 592.66L531.35 592.40L531.60 592.71L531.85 592.58L532.10 592.51L532.35 592.39L532.60 592.63L532.85 592.90L533.10 592.06L533.35 592.59L533.60 592.21L533.85 592.92L534.10 592.87L534.35 592.84L534.60 592.51L534.85 592.18L535.10 592.34L535.35 593.03L535.60 593.11L535.85 593.30L536.10 593.08L536.35 592.94L536.60 593.01L536.85 592.97L537.10 592.35L537.35 592.19L537.60 592.88L537.85 593.04L538.10 593.12L538.35 592.61L538.60 592.78L538.85 592.27L539.10 592.31L539.35 592.20L539.60 592.85L539.85 592.91L540.10 592.67L540.35 592.66L540.60 593.29L540.85 593.23L541.10 592.94L541.35 592.76L541.60 592.85L541.85 592.33L542.10 592.43L542.35 592.22L542.60 592.45L542.85 592.66L543.10 592.92L543.35 593.18L543.60 592.77L543.85 592.73L544.10 592.74L544.35 593.10L544.60 593.54L544.85 593.56L545.10 593.63L545.35 593.44L545.60 593.21L545.85 593.58L546.10 593.61L546.35 593.29L546.60 593.03L546.85 592.52L547.10 592.68L547.35 593.17L547.60 593.30L547.85 593.31L548.10 593.17L548.35 592.89L548.60 593.02L548.85 593.12L549.10 592.97L549.35 592.91L549.60 592.69L549.85 592.73L550.10 592.94L550.35 593.13L550.60 592.54L550.85 592.64L551.10 592.90L551.35 592.88L551.60 592.61L551.85 592.68L552.10 592.65L552.35 592.82L552.60 592.60L552.85 592.98L553.10 592.93L553.35 592.68L553.60 592.46L553.85 592.43L554.10 592.46L554.35 592.18L554.60 592.30L554.85 592.17L555.10 592.69L555.35 592.97L555.60 592.50L555.85 592.70L556.10 592.81L556.35 592.94L556.60 592.34L556.85 592.79L557.10 592.72L557.35 593.22L557.60 593.10L557.85 592.48L558.10 592.14L558.35 592.59L558.60 593.07L558.85 592.49L559.10 592.91L559.35 593.44L559.60 593.07L559.85 593.21L560.10 593.51L560.35 593.03L560.60 593.26L560.85 593.37L561.10 593.18L561.35 593.12L561.60 592.72L561.85 592.83L562.10 592.44L562.35 592.30L562.60 592.13L562.85 592.20L563.10 592.61L563.35 592.68L563.60 592.80L563.85 593.08L564.10 592.88L564.35 591.74L564.60 591.24L564.85 590.58L565.10 591.73L565.35 593.05L565.60 595.06L565.85 596.55L566.10 596.88L566.35 595.48L566.60 594.10L566.85 593.91L567.10 593.27L567.35 593.40L567.60 593.29L567.85 593.08L568.10 592.83L568.35 592.66L568.60 592.33L568.85 592.96L569.10 592.86L569.35 592.56L569.60 592.73L569.85 593.35L570.10 593.14L570.35 593.26L570.60 593.46L570.85 593.08L571.10 593.24L571.35 593.36L571.60 593.31L571.85 592.57L572.10 592.98L572.35 592.89L572.60 592.84L572.85 592.66L573.10 593.08L573.35 593.29L573.60 593.36L573.85 593.48L574.10 592.53L574.35 592.77L574.60 592.96L574.85 592.54L575.10 592.59L575.35 592.85L575.60 592.73L575.85 592.72L576.10 592.55L576.35 592.32L576.60 592.79L576.85 592.90L577.10 592.94L577.35 592.69L577.60 592.76L577.85 592.82L578.10 592.80L578.35 593.14L578.60 593.05L578.85 592.79L579.10 592.75L579.35 592.83L579.60 593.06L579.85 593.18L580.10 593.32L580.35 593.26L580.60 593.29L580.85 593.64L581.10 593.20L581.35 593.50L581.60 593.32L581.85 593.05L582.10 593.31L582.35 593.78L582.60 593.21L582.85 593.28L583.10 593.20L583.35 593.02L583.60 592.82L583.85 593.17L584.10 593.04L584.35 593.47L584.60 593.20L584.85 592.72L585.10 592.98L585.35 592.76L585.60 593.31L585.85 593.18L586.10 592.85L586.35 592.42L586.60 592.66L586.85 592.63L587.10 592.45L587.35 593.41L587.60 593.46L587.85 592.74L588.10 592.32L588.35 592.71L588.60 592.95L588.85 592.86L589.10 592.98L589.35 593.09L589.60 593.04L589.85 593.09L590.10 592.70L590.35 592.52L590.60 592.57L590.85 592.70L591.10 593.08L591.35 592.61L591.60 593.49L591.85 593.13L592.10 592.87L592.35 593.04L592.60 592.38L592.85 592.98L593.10 593.17L593.35 593.04L593.60 592.76L593.85 592.59L594.10 592.68L594.35 592.77L594.60 593.05L594.85 593.28L595.10 593.30L595.35 593.53L595.60 593.34L595.85 593.33L596.10 593.04L596.35 593.50L596.60 593.57L596.85 593.58L597.10 593.46L597.35 593.58L597.60 593.54L597.85 593.78L598.10 593.35L598.35 593.23L598.60 593.32L598.85 593.41L599.10 593.78L599.35 593.70L599.60 593.45L599.85 593.58L600.10 593.59L600.35 593.36L600.60 593.11L600.85 593.18L601.10 593.27L601.35 593.14L601.60 593.13L601.85 592.68L602.10 591.24L602.35 588.33L602.60 584.76L602.85 583.96L603.10 586.55L603.35 591.70L603.60 595.88L603.85 596.94L604.10 595.18L604.35 593.61L604.60 593.02L604.85 592.93L605.10 593.15L605.35 592.90L605.60 592.79L605.85 592.94L606.10 592.55L606.35 592.80L606.60 592.20L606.85 592.16L607.10 592.26L607.35 592.52L607.60 592.68L607.85 593.13L608.10 592.72L608.35 592.76L608.60 592.79L608.85 592.97L609.10 592.70L609.35 593.09L609.60 593.42L609.85 592.90L610.10 592.44L610.35 593.36L610.60 592.52L610.85 592.63L611.10 592.58L611.35 593.01L611.60 593.03L611.85 592.58L612.10 592.77L612.35 592.57L612.60 592.58L612.85 591.95L613.10 591.99L613.35 592.51L613.60 592.67L613.85 592.93L614.10 593.02L614.35 593.01L614.60 592.48L614.85 592.50L615.10 592.36L615.35 592.50L615.60 592.61L615.85 592.59L616.10 592.59L616.35 592.15L616.60 592.01L616.85 592.44L617.10 592.52L617.35 593.37L617.60 593.19L617.85 592.45L618.10 593.04L618.35 592.83L618.60 592.60L618.85 592.96L619.10 593.13L619.35 593.24L619.60 592.91L619.85 592.90L620.10 592.38L620.35 592.48L620.60 592.72L620.85 592.13L621.10 592.69L621.35 592.97L621.60 592.82L621.85 593.01L622.10 592.86L622.35 592.69L622.60 592.45L622.85 593.18L623.10 593.26L623.35 593.06L623.60 593.08L623.85 592.84L624.10 593.10L624.35 592.59L624.60 592.88L624.85 592.84L625.10 592.86L625.35 592.39L625.60 592.64L625.85 592.74L626.10 592.70L626.35 592.64L626.60 592.50L626.85 592.71L627.10 592.42L627.35 592.84L627.60 592.78L627.85 592.48L628.10 592.19L628.35 592.41L628.60 593.26L628.85 592.58L629.10 592.72L629.35 592.31L629.60 592.81L629.85 592.80L630.10 593.25L630.35 592.84L630.60 592.60L630.85 593.02L631.10 592.70L631.35 592.08L631.60 592.76L631.85 593.37L632.10 593.14L632.35 593.26L632.60 593.66L632.85 593.83L633.10 593.49L633.35 593.58L633.60 593.21L633.85 593.19L634.10 593.18L634.35 592.97L634.60 593.43L634.85 593.17L635.10 593.45L635.35 593.36L635.60 592.89L635.85 593.05L636.10 593.01L636.35 592.74L636.60 592.36L636.85 592.37L637.10 592.59L637.35 592.81L637.60 593.09L637.85 592.37L638.10 591.63L638.35 591.52L638.60 588.98L638.85 585.43L639.10 580.00L639.35 574.02L639.60 569.36L639.85 568.25L640.10 573.30L640.35 584.61L640.60 600.53L640.85 613.82L641.10 616.37L641.35 609.55L641.60 601.30L641.85 596.12L642.10 593.64L642.35 592.92L642.60 592.88L642.85 593.06L643.10 593.08L643.35 593.68L643.60 593.59L643.85 593.61L644.10 593.32L644.35 593.36L644.60 592.51L644.85 592.68L645.10 592.80L645.35 592.40L645.60 592.60L645.85 592.94L646.10 592.74L646.35 592.74L646.60 592.62L646.85 592.52L647.10 592.89L647.35 593.26L647.60 593.54L647.85 593.38L648.10 593.07L648.35 593.29L648.60 593.28L648.85 593.47L649.10 592.61L649.35 592.66L649.60 592.89L649.85 593.35L650.10 593.34L650.35 593.22L650.60 593.09L650.85 593.45L651.10 593.20L651.35 592.66L651.60 592.87L651.85 592.76L652.10 593.41L652.35 593.14L652.60 593.03L652.85 593.15L653.10 593.42L653.35 593.12L653.60 593.20L653.85 593.08L654.10 593.35L654.35 593.16L654.60 592.59L654.85 592.74L655.10 592.60L655.35 593.12L655.60 592.64L655.85 592.49L656.10 592.68L656.35 592.37L656.60 592.70L656.85 592.64L657.10 592.03L657.35 592.46L657.60 592.80L657.85 592.50L658.10 592.48L658.35 592.71L658.60 593.18L658.85 593.65L659.10 593.59L659.35 592.62L659.60 592.64L659.85 592.85L660.10 592.42L660.35 592.16L660.60 592.70L660.85 592.53L661.10 593.02L661.35 592.61L661.60 592.06L661.85 592.76L662.10 592.93L662.35 592.94L662.60 592.82L662.85 592.74L663.10 592.72L663.35 592.31L663.60 592.23L663.85 592.12L664.10 592.13L664.35 592.06L664.60 592.40L664.85 592.31L665.10 592.42L665.35 592.63L665.60 592.01L665.85 592.30L666.10 592.44L666.35 593.08L666.60 592.89L666.85 592.58L667.10 592.67L667.35 592.87L667.60 592.44L667.85 592.82L668.10 592.73L668.35 592.82L668.60 592.97L668.85 592.70L669.10 592.72L669.35 592.97L669.60 593.32L669.85 593.18L670.10 592.60L670.35 592.93L670.60 592.76L670.85 593.38L671.10 593.26L671.35 593.00L671.60 592.69L671.85 592.87L672.10 592.85L672.35 593.17L672.60 592.99L672.85 592.54L673.10 592.83L673.35 593.21L673.60 592.96L673.85 593.23L674.10 593.17L674.35 593.15L674.60 593.21L674.85 593.44L675.10 593.47L675.35 593.71L675.60 593.46L675.85 593.53L676.10 593.07L676.35 593.18L676.60 593.34L676.85 593.51L677.10 593.17L677.35 593.23L677.60 593.10L677.85 592.78L678.10 592.54L678.35 593.16L678.60 592.74L678.85 592.38L679.10 592.37L679.35 592.65L679.60 592.87L679.85 592.52L680.10 592.82L680.35 593.23L680.60 593.02L680.85 592.91L681.10 593.34L681.35 593.54L681.60 592.87L681.85 593.05L682.10 592.89L682.35 593.16L682.60 593.20L682.85 593.12L683.10 592.70L683.35 593.11L683.60 593.54L683.85 593.34L684.10 593.16L684.35 593.22L684.60 593.35L684.85 593.20L685.10 593.26L685.35 592.95L685.60 592.95L685.85 592.72L686.10 592.89L686.35 593.52L686.60 593.73L686.85 593.28L687.10 592.92L687.35 592.71L687.60 592.87L687.85 593.50L688.10 593.38L688.35 593.11L688.60 592.70L688.85 593.00L689.10 593.09L689.35 593.13L689.60 592.66L689.85 592.50L690.10 593.03L690.35 592.55L690.60 592.90L690.85 593.34L691.10 593.49L691.35 593.24L691.60 592.49L691.85 591.97L692.10 592.87L692.35 593.05L692.60 592.77L692.85 592.66L693.10 592.94L693.35 593.29L693.60 593.17L693.85 593.11L694.10 593.45L694.35 593.24L694.60 593.52L694.85 593.65L695.10 592.80L695.35 592.59L695.60 592.37L695.85 592.56L696.10 592.83L696.35 592.90L696.60 593.22L696.85 592.74L697.10 592.74L697.35 592.83L697.60 593.35L697.85 593.18L698.10 592.61L698.35 592.52L698.60 592.64L698.85 593.08L699.10 593.14L699.35 593.10L699.60 592.92L699.85 592.66L700.10 593.00L700.35 593.71L700.60 594.18L700.85 593.87L701.10 593.90L701.35 593.26L701.60 592.94L701.85 593.16L702.10 593.11L702.35 593.30L702.60 593.40L702.85 593.47L703.10 593.54L703.35 593.06L703.60 593.29L703.85 593.31L704.10 593.03L704.35 592.97L704.60 593.31L704.85 593.12L705.10 593.42L705.35 593.42L705.60 593.13L705.85 593.03L706.10 592.89L706.35 592.84L706.60 593.56L706.85 593.49L707.10 593.18L707.35 593.16L707.60 593.28L707.85 593.23L708.10 592.78L708.35 592.85L708.60 592.91L708.85 593.09L709.10 593.34L709.35 593.01L709.60 593.18L709.85 592.81L710.10 592.61L710.35 592.59L710.60 592.38L710.85 592.75L711.10 593.18L711.35 592.96L711.60 592.66L711.85 593.25L712.10 593.38L712.35 592.86L712.60 592.73L712.85 592.41L713.10 592.41L713.35 592.72L713.60 592.59L713.85 592.48L714.10 592.59L714.35 592.73L714.60 592.72L714.85 592.63L715.10 591.95L715.35 592.44L715.60 592.93L715.85 593.12L716.10 592.50L716.35 592.62L716.60 592.41L716.85 592.40L717.10 592.43L717.35 593.00L717.60 592.70L717.85 592.75L718.10 592.40L718.35 592.39L718.60 592.91L718.85 592.91L719.10 592.61L719.35 592.44L719.60 592.34L719.85 592.59L720.10 592.35L720.35 593.20L720.60 593.10L720.85 593.34L721.10 593.33L721.35 593.01L721.60 592.93L721.85 592.86L722.10 592.83L722.35 592.87L722.60 592.76L722.85 593.01L723.10 592.66L723.35 593.12L723.60 592.55L723.85 593.07L724.10 592.97L724.35 593.24L724.60 593.05L724.85 592.68L725.10 592.92L725.35 592.33L725.60 592.26L725.85 592.48L726.10 592.81L726.35 592.67L726.60 593.54L726.85 593.33L727.10 592.75L727.35 592.85L727.60 592.27L727.85 592.82L728.10 593.34L728.35 593.20L728.60 592.93L728.85 592.64L729.10 593.36L729.35 593.23L729.60 592.87L729.85 593.28L730.10 593.23L730.35 593.55L730.60 593.06L730.85 592.83L731.10 592.67L731.35 592.75L731.60 592.59L731.85 592.80L732.10 592.84L732.35 592.54L732.60 592.40L732.85 592.56L733.10 592.83L733.35 592.75L733.60 593.15L733.85 593.53L734.10 592.75L734.35 592.71L734.60 592.96L734.85 593.04L735.10 593.10L735.35 592.96L735.60 593.08L735.85 592.73L736.10 593.30L736.35 592.21L736.60 592.94L736.85 592.54L737.10 592.65L737.35 593.42L737.60 593.63L737.85 593.42L738.10 593.12L738.35 593.37L738.60 593.38L738.85 593.26L739.10 593.65L739.35 593.55L739.60 592.65L739.85 592.63L740.10 592.28L740.35 591.72L740.60 591.85L740.85 592.63L741.10 593.80L741.35 594.36L741.60 594.38L741.85 593.97L742.10 593.47L742.35 592.99L742.60 592.85L742.85 593.11L743.10 592.95L743.35 592.51L743.60 593.11L743.85 592.54L744.10 592.56L744.35 592.87L744.60 593.16L744.85 592.67L745.10 592.46L745.35 592.65L745.60 592.30L745.85 593.20L746.10 593.15L746.35 593.19L746.60 593.34L746.85 593.18L747.10 592.95L747.35 592.76L747.60 592.93L747.85 593.15L748.10 593.06L748.35 592.73L748.60 592.16L748.85 592.13L749.10 592.42L749.35 592.85L749.60 592.13L749.85 592.55L750.10 592.67L750.35 592.61L750.60 592.61L750.85 592.38L751.10 592.88L751.35 593.14L751.60 593.00L751.85 593.26L752.10 593.12L752.35 592.53L752.60 592.55L752.85 592.71L753.10 592.94L753.35 592.92L753.60 592.91L753.85 593.14L754.10 592.81L754.35 593.01L754.60 592.61L754.85 592.75L755.10 593.37L755.35 593.48L755.60 593.07L755.85 593.04L756.10 592.42L756.35 592.20L756.60 591.93L756.85 592.08L757.10 592.01L757.35 592.39L757.60 592.20L757.85 592.63L758.10 592.55L758.35 592.83L758.60 592.64L758.85 592.52L759.10 592.56L759.35 592.76L759.60 592.46L759.85 592.18L760.10 592.39L760.35 592.31L760.60 592.24L760.85 592.92L761.10 592.86L761.35 593.45L761.60 593.48L761.85 593.17L762.10 593.31L762.35 592.98L762.60 592.86L762.85 593.44L763.10 593.25L763.35 592.52L763.60 592.60L763.85 592.51L764.10 592.77L764.35 593.10L764.60 593.33L764.85 592.18L765.10 592.58L765.35 592.87L765.60 592.82L765.85 593.36L766.10 592.59L766.35 592.22L766.60 592.64L766.85 592.62L767.10 593.08L767.35 592.62L767.60 592.94L767.85 592.96L768.10 592.48L768.35 592.62L768.60 592.91L768.85 593.23L769.10 593.50L769.35 592.76L769.60 592.68L769.85 592.76L770.10 592.41L770.35 592.45L770.60 592.30L770.85 591.81L771.10 591.78L771.35 592.16L771.60 592.23L771.85 593.40L772.10 594.70L772.35 594.74L772.60 593.92L772.85 593.38L773.10 593.40L773.35 593.15L773.60 593.21L773.85 593.50L774.10 593.29L774.35 593.41L774.60 592.57L774.85 592.31L775.10 592.80L775.35 592.41L775.60 592.59L775.85 593.38L776.10 593.18L776.35 593.47L776.60 593.74L776.85 593.59L777.10 593.03L777.35 593.05L777.60 593.44L777.85 593.44L778.10 593.57L778.35 593.13L778.60 593.27L778.85 593.60L779.10 593.57L779.35 593.97L779.60 593.76L779.85 593.27L780.10 593.70L780.35 593.48L780.60 593.51L780.85 593.16L781.10 593.41L781.35 593.15L781.60 592.80L781.85 592.48L782.10 593.42L782.35 593.28L782.60 593.28L782.85 593.32L783.10 593.57L783.35 593.05L783.60 592.53L783.85 592.53L784.10 593.21L784.35 593.36L784.60 593.12L784.85 593.06L785.10 593.37L785.35 593.07L785.60 593.00L785.85 593.13L786.10 593.42L786.35 593.09L786.60 593.37L786.85 593.71L787.10 593.56L787.35 593.79L787.60 592.87L787.85 592.82L788.10 593.41L788.35 593.22L788.60 592.87L788.85 593.06L789.10 592.88L789.35 592.95L789.60 592.93L789.85 592.95L790.10 592.76L790.35 592.90L790.60 593.13L790.85 592.69L791.10 592.69L791.35 592.73L791.60 592.99L791.85 593.37L792.10 592.92L792.35 592.74L792.60 592.59L792.85 592.80L793.10 592.73L793.35 592.33L793.60 592.78L793.85 592.26L794.10 592.18L794.35 592.43L794.60 592.70L794.85 592.66L795.10 593.02L795.35 592.89L795.60 593.09L795.85 593.39L796.10 592.97L796.35 592.90L796.60 592.55L796.85 592.39L797.10 592.33L797.35 592.35L797.60 592.84L797.85 592.48L798.10 591.98L798.35 592.60L798.60 593.12L798.85 592.76L799.10 592.61L799.35 592.46L799.60 592.24L799.85 592.93L800.10 592.73L800.35 592.74L800.60 592.27L800.85 592.81L801.10 592.72L801.35 592.82L801.60 592.86L801.85 592.70L802.10 592.63L802.35 593.11L802.60 592.81L802.85 592.63L803.10 592.57L803.35 593.39L803.60 593.07L803.85 592.95L804.10 593.05L804.35 592.38L804.60 592.21L804.85 592.51L805.10 592.38L805.35 591.62L805.60 592.48L805.85 592.58L806.10 592.77L806.35 592.13L806.60 592.01L806.85 592.43L807.10 592.47L807.35 592.81L807.60 593.13L807.85 592.54L808.10 592.33L808.35 592.51L808.60 592.72L808.85 593.16L809.10 592.28L809.35 592.85L809.60 593.05L809.85 592.84L810.10 592.57L810.35 592.70L810.60 592.73L810.85 592.91L811.10 592.71L811.35 592.72L811.60 592.70L811.85 592.72L812.10 592.98L812.35 592.46L812.60 592.75L812.85 593.15L813.10 593.08L813.35 592.76L813.60 592.59L813.85 593.10L814.10 593.38L814.35 593.12L814.60 592.99L814.85 593.40L815.10 593.51L815.35 593.30L815.60 593.20L815.85 593.40L816.10 593.59L816.35 592.94L816.60 593.49L816.85 593.09L817.10 593.55L817.35 592.93L817.60 592.52L817.85 592.97L818.10 593.33L818.35 592.92L818.60 593.38L818.85 593.08L819.10 592.72L819.35 592.90L819.60 592.91L819.85 592.91L820.10 592.81L820.35 593.32L820.60 592.86L820.85 593.07L821.10 593.34L821.35 593.94L821.60 593.70L821.85 593.40L822.10 593.10L822.35 593.61L822.60 593.46L822.85 593.51L823.10 593.78L823.35 593.53L823.60 593.55L823.85 593.29L824.10 594.13L824.35 593.43L824.60 593.69L824.85 593.83L825.10 593.26L825.35 593.32L825.60 593.21L825.85 593.45L826.10 593.52L826.35 593.50L826.60 593.08L826.85 593.09L827.10 593.23L827.35 593.42L827.60 593.16L827.85 593.31L828.10 593.64L828.35 594.20L828.60 593.76L828.85 593.33L829.10 592.91L829.35 592.96L829.60 593.14L829.85 593.31L830.10 592.68L830.35 592.88L830.60 592.57L830.85 592.80L831.10 592.88L831.35 593.32L831.60 593.15L831.85 592.59L832.10 592.74L832.35 592.39L832.60 592.94L832.85 592.57L833.10 591.83L833.35 591.90L833.60 592.08L833.85 592.67L834.10 592.79L834.35 592.90L834.60 592.69L834.85 593.22L835.10 593.17L835.35 592.68L835.60 592.68L835.85 592.49L836.10 592.44L836.35 593.08L836.60 593.37L836.85 592.84L837.10 592.87L837.35 592.76L837.60 592.88L837.85 592.56L838.10 592.51L838.35 592.54L838.60 592.81L838.85 592.53L839.10 592.67L839.35 593.16L839.60 593.11L839.85 593.55L840.10 593.30L840.35 593.07L840.60 592.88L840.85 593.26L841.10 593.56L841.35 593.44L841.60 593.75L841.85 593.49L842.10 592.55L842.35 592.72L842.60 593.08L842.85 593.18L843.10 592.60L843.35 593.17L843.60 593.21L843.85 593.33L844.10 593.58L844.35 593.58L844.60 593.56L844.85 593.61L845.10 593.05L845.35 592.73L845.60 592.72L845.85 592.62L846.10 592.73L846.35 592.79L846.60 592.72L846.85 592.67L847.10 592.80L847.35 592.90L847.60 593.10L847.85 592.84L848.10 593.17L848.35 593.25L848.60 593.32L848.85 593.32L849.10 592.83L849.35 592.81L849.60 592.90L849.85 593.06L850.10 592.77L850.35 592.85L850.60 592.51L850.85 592.57L851.10 592.94L851.35 593.16L851.60 593.09L851.85 592.99L852.10 592.63L852.35 592.55L852.60 592.39L852.85 593.14L853.10 592.93L853.35 593.31L853.60 593.26L853.85 593.23L854.10 593.21L854.35 593.20L854.60 593.52L854.85 592.88L855.10 593.03L855.35 592.71L855.60 592.98L855.85 593.46L856.10 593.35L856.35 592.77L856.60 592.97L856.85 592.78L857.10 592.99L857.35 592.50L857.60 592.43L857.85 592.25L858.10 592.56L858.35 592.04L858.60 591.47L858.85 589.66L859.10 587.42L859.35 586.42L859.60 588.48L859.85 591.13L860.10 593.10L860.35 594.78L860.60 596.53L860.85 596.19L861.10 594.30L861.35 593.67L861.60 593.13L861.85 593.34L862.10 593.46L862.35 593.11L862.60 593.67L862.85 593.17L863.10 592.80L863.35 592.82L863.60 592.85L863.85 592.47L864.10 592.75L864.35 592.53L864.60 592.34L864.85 592.36L865.10 593.19L865.35 592.79L865.60 592.89L865.85 593.25L866.10 593.12L866.35 592.90L866.60 593.03L866.85 592.84L867.10 592.51L867.35 592.93L867.60 593.16L867.85 593.10L868.10 592.76L868.35 592.66L868.60 592.98L868.85 593.20L869.10 592.85L869.35 592.80L869.60 593.46L869.85 593.36L870.10 593.98L870.35 593.24L870.60 593.19L870.85 593.33L871.10 593.44L871.35 593.23L871.60 593.63L871.85 593.02L872.10 593.06L872.35 593.50L872.60 593.15L872.85 592.75L873.10 593.15L873.35 593.02L873.60 592.33L873.85 592.61L874.10 592.90L874.35 592.83L874.60 592.74L874.85 593.09L875.10 592.97L875.35 593.47L875.60 593.67L875.85 593.82L876.10 593.31L876.35 593.25L876.60 592.94L876.85 592.77L877.10 593.01L877.35 592.95L877.60 592.82L877.85 592.66L878.10 593.24L878.35 593.14L878.60 593.24L878.85 593.21L879.10 593.40L879.35 593.35L879.60 593.01L879.85 592.98L880.10 592.74L880.35 592.64L880.60 592.66L880.85 592.51L881.10 592.46L881.35 592.27L881.60 592.56L881.85 592.91L882.10 592.27L882.35 592.26L882.60 592.26L882.85 592.36L883.10 592.72L883.35 593.05L883.60 592.93L883.85 592.91L884.10 592.88L884.35 593.39L884.60 592.66L884.85 592.98L885.10 593.16L885.35 592.91L885.60 592.60L885.85 592.69L886.10 592.03L886.35 591.11L886.60 590.95L886.85 591.48L887.10 592.05L887.35 592.85L887.60 593.79L887.85 593.75L888.10 594.38L888.35 594.32L888.60 593.43L888.85 593.02L889.10 592.95L889.35 592.30L889.60 593.29L889.85 592.80L890.10 592.95L890.35 592.78L890.60 592.70L890.85 592.81L891.10 592.70L891.35 593.20L891.60 593.35L891.85 592.57L892.10 593.41L892.35 592.78L892.60 593.41L892.85 593.32L893.10 592.82L893.35 592.97L893.60 593.27L893.85 593.50L894.10 593.25L894.35 593.07L894.60 593.12L894.85 593.44L895.10 593.05L895.35 592.82L895.60 592.57L895.85 592.65L896.10 592.43L896.35 592.43L896.60 593.52L896.85 592.71L897.10 592.60L897.35 592.95L897.60 592.62L897.85 592.56L898.10 593.40L898.35 593.60L898.60 593.16L898.85 593.34L899.10 592.97L899.35 593.13L899.60 593.41L899.85 593.69L900.10 593.32L900.35 593.85L900.60 593.95L900.85 593.82L901.10 593.09L901.35 592.71L901.60 592.95L901.85 593.21L902.10 593.05L902.35 592.53L902.60 592.87L902.85 592.31L903.10 592.67L903.35 592.48L903.60 593.32L903.85 593.04L904.10 593.14L904.35 592.66L904.60 593.01L904.85 593.39L905.10 592.82L905.35 593.23L905.60 593.07L905.85 593.37L906.10 593.06L906.35 593.00L906.60 593.01L906.85 593.24L907.10 593.42L907.35 593.53L907.60 593.77L907.85 593.15L908.10 592.99L908.35 593.48L908.60 593.63L908.85 593.37L909.10 592.75L909.35 593.20L909.60 593.34L909.85 593.36L910.10 593.17L910.35 593.30L910.60 593.01L910.85 593.07L911.10 593.10L911.35 592.96L911.60 593.26L911.85 593.38L912.10 592.48L912.35 593.34L912.60 593.63L912.85 593.93L913.10 593.27L913.35 593.28L913.60 592.58L913.85 593.18L914.10 592.70L914.35 592.12L914.60 591.52L914.85 590.46L915.10 591.03L915.35 591.55L915.60 592.46L915.85 592.76L916.10 593.23L916.35 593.52L916.60 594.03L916.85 594.10L917.10 593.38L917.35 593.08L917.60 593.21L917.85 593.25L918.10 592.80L918.35 592.46L918.60 593.09L918.85 593.15L919.10 592.99L919.35 592.74L919.60 592.71L919.85 593.40L920.10 593.15L920.35 592.94L920.60 593.01L920.85 593.31L921.10 593.78L921.35 593.61L921.60 593.52L921.85 593.36L922.10 593.08L922.35 592.92L922.60 593.24L922.85 593.18L923.10 593.20L923.35 593.10L923.60 592.73L923.85 592.63L924.10 592.90L924.35 593.15L924.60 593.17L924.85 593.04L925.10 593.18L925.35 592.70L925.60 592.97L925.85 593.44L926.10 592.72L926.35 593.63L926.60 593.39L926.85 593.25L927.10 592.83L927.35 592.48L927.60 592.38L927.85 592.42L928.10 592.71L928.35 592.81L928.60 592.76L928.85 592.85L929.10 593.19L929.35 593.10L929.60 592.86L929.85 592.85L930.10 593.19L930.35 592.73L930.60 592.71L930.85 593.33L931.10 593.28L931.35 592.88L931.60 592.78L931.85 593.02L932.10 593.25L932.35 592.79L932.60 592.77L932.85 592.88L933.10 593.06L933.35 593.38L933.60 593.61L933.85 593.34L934.10 593.13L934.35 592.94L934.60 593.29L934.85 592.94L935.10 593.23L935.35 593.64L935.60 593.26L935.85 593.00L936.10 593.26L936.35 593.70L936.60 593.69L936.85 594.27L937.10 593.93L937.35 593.24L937.60 593.29L937.85 593.71L938.10 593.48L938.35 593.65L938.60 593.23L938.85 593.61L939.10 593.05L939.35 593.38L939.60 593.28L939.85 593.46L940.10 593.65L940.35 593.29L940.60 592.85L940.85 592.63L941.10 592.19L941.35 592.41L941.60 593.02L941.85 593.41L942.10 593.66L942.35 594.39L942.60 595.04L942.85 595.06L943.10 594.42L943.35 593.83L943.60 593.12L943.85 593.31L944.10 593.17L944.35 593.12L944.60 592.97L944.85 592.91L945.10 592.61L945.35 592.31L945.60 592.43L945.85 592.50L946.10 593.07L946.35 592.78L946.60 592.60L946.85 593.37L947.10 592.58L947.35 592.99L947.60 593.68L947.85 592.72L948.10 592.74L948.35 593.06L948.60 593.18L948.85 592.72L949.10 592.79L949.35 593.11L949.60 592.77L949.85 593.20L950.10 593.37L950.35 593.30L950.60 593.32L950.85 592.77L951.10 592.93L951.35 593.20L951.60 593.13L951.85 593.56L952.10 593.21L952.35 592.88L952.60 592.81L952.85 592.91L953.10 592.95L953.35 593.22L953.60 593.26L953.85 593.26L954.10 593.46L954.35 592.98L954.60 592.93L954.85 593.18L955.10 593.22L955.35 592.59L955.60 592.94L955.85 593.28L956.10 593.54L956.35 593.22L956.60 593.28L956.85 593.43L957.10 593.41L957.35 593.04L957.60 593.26L957.85 593.09L958.10 593.35L958.35 593.73L958.60 593.36L958.85 593.30L959.10 593.40L959.35 593.39L959.60 593.65L959.85 593.25L960.10 593.45L960.35 593.27L960.60 593.17L960.85 593.38L961.10 593.18L961.35 593.11L961.60 593.27L961.85 593.06L962.10 593.23L962.35 592.92L962.60 592.58L962.85 592.85L963.10 592.63L963.35 592.68L963.60 592.58L963.85 592.95L964.10 593.01L964.35 593.37L964.60 593.34L964.85 592.83L965.10 593.55L965.35 593.50L965.60 593.00L965.85 592.78L966.10 593.09L966.35 593.51L966.60 593.56L966.85 592.98L967.10 592.51L967.35 592.45L967.60 592.79L967.85 592.41L968.10 592.81L968.35 592.59L968.60 592.72L968.85 592.21L969.10 592.61L969.35 593.17L969.60 592.98L969.85 592.76L970.10 592.57L970.35 592.80L970.60 592.73L970.85 592.98L971.10 592.76L971.35 592.58L971.60 592.64L971.85 592.09L972.10 592.86L972.35 592.61L972.60 592.57L972.85 592.78L973.10 592.64L973.35 592.57L973.60 592.79L973.85 592.52L974.10 591.92L974.35 591.88L974.60 592.02L974.85 591.89L975.10 592.35L975.35 592.25L975.60 592.67L975.85 592.60L976.10 592.40L976.35 592.15L976.60 592.45L976.85 592.63L977.10 592.49L977.35 592.65L977.60 592.48L977.85 592.31L978.10 592.57L978.35 592.30L978.60 592.35L978.85 592.56L979.10 593.04L979.35 592.86L979.60 592.69L979.85 592.37L980.10 593.06L980.35 592.53L980.60 592.53L980.85 592.92L981.10 592.61L981.35 592.44L981.60 592.40L981.85 592.80L982.10 593.07L982.35 592.53L982.60 592.19L982.85 592.37L983.10 592.52L983.35 592.62L983.60 593.14L983.85 592.53L984.10 592.51L984.35 592.23L984.60 592.74L984.85 592.35L985.10 592.73L985.35 592.57L985.70 592.32"/>
</g>
<g stroke="#000" stroke-width="2.9" fill="none" stroke-linecap="butt">
<rect x="175.60" y="34.15" width="810.10" height="606.05"/>
<line x1="175.60" y1="640.20" x2="175.60" y2="652.80"/>
<line x1="249.25" y1="640.20" x2="249.25" y2="652.80"/>
<line x1="322.89" y1="640.20" x2="322.89" y2="652.80"/>
<line x1="396.54" y1="640.20" x2="396.54" y2="652.80"/>
<line x1="470.18" y1="640.20" x2="470.18" y2="652.80"/>
<line x1="543.83" y1="640.20" x2="543.83" y2="652.80"/>
<line x1="617.47" y1="640.20" x2="617.47" y2="652.80"/>
<line x1="691.12" y1="640.20" x2="691.12" y2="652.80"/>
<line x1="764.76" y1="640.20" x2="764.76" y2="652.80"/>
<line x1="838.41" y1="640.20" x2="838.41" y2="652.80"/>
<line x1="912.05" y1="640.20" x2="912.05" y2="652.80"/>
<line x1="985.70" y1="640.20" x2="985.70" y2="652.80"/>
<line x1="212.42" y1="640.20" x2="212.42" y2="646.90"/>
<line x1="286.07" y1="640.20" x2="286.07" y2="646.90"/>
<line x1="359.71" y1="640.20" x2="359.71" y2="646.90"/>
<line x1="433.36" y1="640.20" x2="433.36" y2="646.90"/>
<line x1="507.00" y1="640.20" x2="507.00" y2="646.90"/>
<line x1="580.65" y1="640.20" x2="580.65" y2="646.90"/>
<line x1="654.30" y1="640.20" x2="654.30" y2="646.90"/>
<line x1="727.94" y1="640.20" x2="727.94" y2="646.90"/>
<line x1="801.59" y1="640.20" x2="801.59" y2="646.90"/>
<line x1="875.23" y1="640.20" x2="875.23" y2="646.90"/>
<line x1="948.88" y1="640.20" x2="948.88" y2="646.90"/>
<line x1="162.90" y1="593.25" x2="175.60" y2="593.25"/>
<line x1="162.90" y1="406.88" x2="175.60" y2="406.88"/>
<line x1="162.90" y1="220.52" x2="175.60" y2="220.52"/>
<line x1="162.90" y1="34.15" x2="175.60" y2="34.15"/>
<line x1="168.40" y1="500.07" x2="175.60" y2="500.07"/>
<line x1="168.40" y1="313.70" x2="175.60" y2="313.70"/>
<line x1="168.40" y1="127.33" x2="175.60" y2="127.33"/>
</g>
<text transform="translate(156.90 602.55) scale(0.9850 1)" font-size="30.50" text-anchor="end" letter-spacing="0.82" stroke="#000" stroke-width="0.35">0</text>
<text transform="translate(156.90 416.18) scale(0.9850 1)" font-size="30.50" text-anchor="end" letter-spacing="0.82" stroke="#000" stroke-width="0.35">20000</text>
<text transform="translate(156.90 229.82) scale(0.9850 1)" font-size="30.50" text-anchor="end" letter-spacing="0.82" stroke="#000" stroke-width="0.35">40000</text>
<text transform="translate(156.90 43.45) scale(0.9850 1)" font-size="30.50" text-anchor="end" letter-spacing="0.82" stroke="#000" stroke-width="0.35">60000</text>
<path transform="translate(158.06 686.60) scale(0.01575 -0.01572)" d="M763 0H583V1147Q518 1085 412.5 1023T223 930V1104Q374 1175 487 1276T647 1466H763Z" fill="#000" stroke="#000" stroke-width="21.4"/><text transform="translate(176.00 686.60) scale(0.9630 1)" font-size="33.50" text-anchor="start" stroke="#000" stroke-width="0.35">0</text>
<path transform="translate(231.71 686.60) scale(0.01575 -0.01572)" d="M763 0H583V1147Q518 1085 412.5 1023T223 930V1104Q374 1175 487 1276T647 1466H763Z" fill="#000" stroke="#000" stroke-width="21.4"/><text transform="translate(249.65 686.60) scale(0.9630 1)" font-size="33.50" text-anchor="start" stroke="#000" stroke-width="0.35">5</text>
<text transform="translate(323.29 686.60) scale(0.9630 1)" font-size="33.50" text-anchor="middle" stroke="#000" stroke-width="0.35">20</text>
<text transform="translate(396.94 686.60) scale(0.9630 1)" font-size="33.50" text-anchor="middle" stroke="#000" stroke-width="0.35">25</text>
<text transform="translate(470.58 686.60) scale(0.9630 1)" font-size="33.50" text-anchor="middle" stroke="#000" stroke-width="0.35">30</text>
<text transform="translate(544.23 686.60) scale(0.9630 1)" font-size="33.50" text-anchor="middle" stroke="#000" stroke-width="0.35">35</text>
<text transform="translate(617.87 686.60) scale(0.9630 1)" font-size="33.50" text-anchor="middle" stroke="#000" stroke-width="0.35">40</text>
<text transform="translate(691.52 686.60) scale(0.9630 1)" font-size="33.50" text-anchor="middle" stroke="#000" stroke-width="0.35">45</text>
<text transform="translate(765.16 686.60) scale(0.9630 1)" font-size="33.50" text-anchor="middle" stroke="#000" stroke-width="0.35">50</text>
<text transform="translate(838.81 686.60) scale(0.9630 1)" font-size="33.50" text-anchor="middle" stroke="#000" stroke-width="0.35">55</text>
<text transform="translate(912.45 686.60) scale(0.9630 1)" font-size="33.50" text-anchor="middle" stroke="#000" stroke-width="0.35">60</text>
<text transform="translate(986.10 686.60) scale(0.9630 1)" font-size="33.50" text-anchor="middle" stroke="#000" stroke-width="0.35">65</text>
<path transform="translate(446.30 74.90) scale(0.01519 -0.01469)" d="M763 0H583V1147Q518 1085 412.5 1023T223 930V1104Q374 1175 487 1276T647 1466H763Z" fill="#000" stroke="#000" stroke-width="22.9"/><text transform="translate(463.60 74.90) scale(0.9940 1)" font-size="31.30" text-anchor="start" stroke="#000" stroke-width="0.35">400</text>
<circle cx="522.0" cy="55.1" r="2.35" fill="none" stroke="#000" stroke-width="1.15"/>
<path fill="#000" fill-rule="evenodd" d="M525.2 64.05a9 11.15 0 1 0 18 0a9 11.15 0 1 0 -18 0ZM527.3 64.05a7.7 9.95 0 1 0 15.4 0a7.7 9.95 0 1 0 -15.4 0Z"/>
<path fill="#fff" d="M536.5 62.3L541.2 60.9L547 60.9L547 69.0L542.9 69.9L536.5 66.3Z"/>
<path fill="#000" d="M541.25 54.3L542.55 54.3L542.55 60.9L541.7 60.9Z"/>
<text transform="translate(546.40 74.90) scale(0.9960 1)" font-size="31.30" text-anchor="start" stroke="#000" stroke-width="0.35">-</text><path transform="translate(556.78 74.90) scale(0.01522 -0.01469)" d="M763 0H583V1147Q518 1085 412.5 1023T223 930V1104Q374 1175 487 1276T647 1466H763Z" fill="#000" stroke="#000" stroke-width="22.9"/><text transform="translate(574.11 74.90) scale(0.9960 1)" font-size="31.30" text-anchor="start" stroke="#000" stroke-width="0.35">80min</text>
<text transform="translate(543.90 741.00) scale(1.0440 1)" font-size="33.90" text-anchor="start" stroke="#000" stroke-width="0.35">2</text>
<text transform="translate(565.00 741.70) scale(1.0000 1)" font-size="35.30" text-anchor="start" class="se" stroke="#000" stroke-width="0.25">θ</text>
<text transform="translate(581.90 740.50) scale(1.0000 1)" font-size="33.20" text-anchor="start" class="se" stroke="#000" stroke-width="0.20">(</text>
<circle cx="599.3" cy="722.6" r="4.7" fill="none" stroke="#000" stroke-width="1.5"/>
<text transform="translate(606.20 740.50) scale(1.0000 1)" font-size="33.20" text-anchor="start" class="se" stroke="#000" stroke-width="0.20">)</text>
<g transform="translate(46.9 325.6) rotate(-90)" stroke="#000" stroke-width="0.35">
<text transform="translate(-53.86 0) scale(0.9479 1)" font-size="35.87">C</text>
<text x="-29.31" y="0" font-size="34.00">ounts</text>
</g>
<g stroke-width="3" stroke-linecap="round" fill="none">
<line x1="718.0" y1="177.1" x2="794.2" y2="177.1" stroke="#000000"/>
<line x1="718.0" y1="219.0" x2="794.2" y2="219.0" stroke="#ff0000"/>
<line x1="718.0" y1="260.8" x2="794.2" y2="260.8" stroke="#0000ff"/>
</g>
<text transform="translate(803.50 189.05) scale(0.9758 1)" font-size="34.64" text-anchor="start" stroke="#000" stroke-width="0.35">R</text>
<text transform="translate(827.90 189.20) scale(1.0152 1)" font-size="33.29" text-anchor="start" stroke="#000" stroke-width="0.35">aw data</text>
<text transform="translate(803.50 230.90) scale(0.9758 1)" font-size="34.64" text-anchor="start" stroke="#000" stroke-width="0.35">F</text>
<text transform="translate(824.15 231.05) scale(1.0152 1)" font-size="33.29" text-anchor="start" stroke="#000" stroke-width="0.35">itting data</text>
<text transform="translate(803.50 272.75) scale(0.9758 1)" font-size="34.64" text-anchor="start" stroke="#000" stroke-width="0.35">F</text>
<text transform="translate(824.15 272.90) scale(1.0152 1)" font-size="33.29" text-anchor="start" stroke="#000" stroke-width="0.35">itting error</text>
</svg></body></html>
